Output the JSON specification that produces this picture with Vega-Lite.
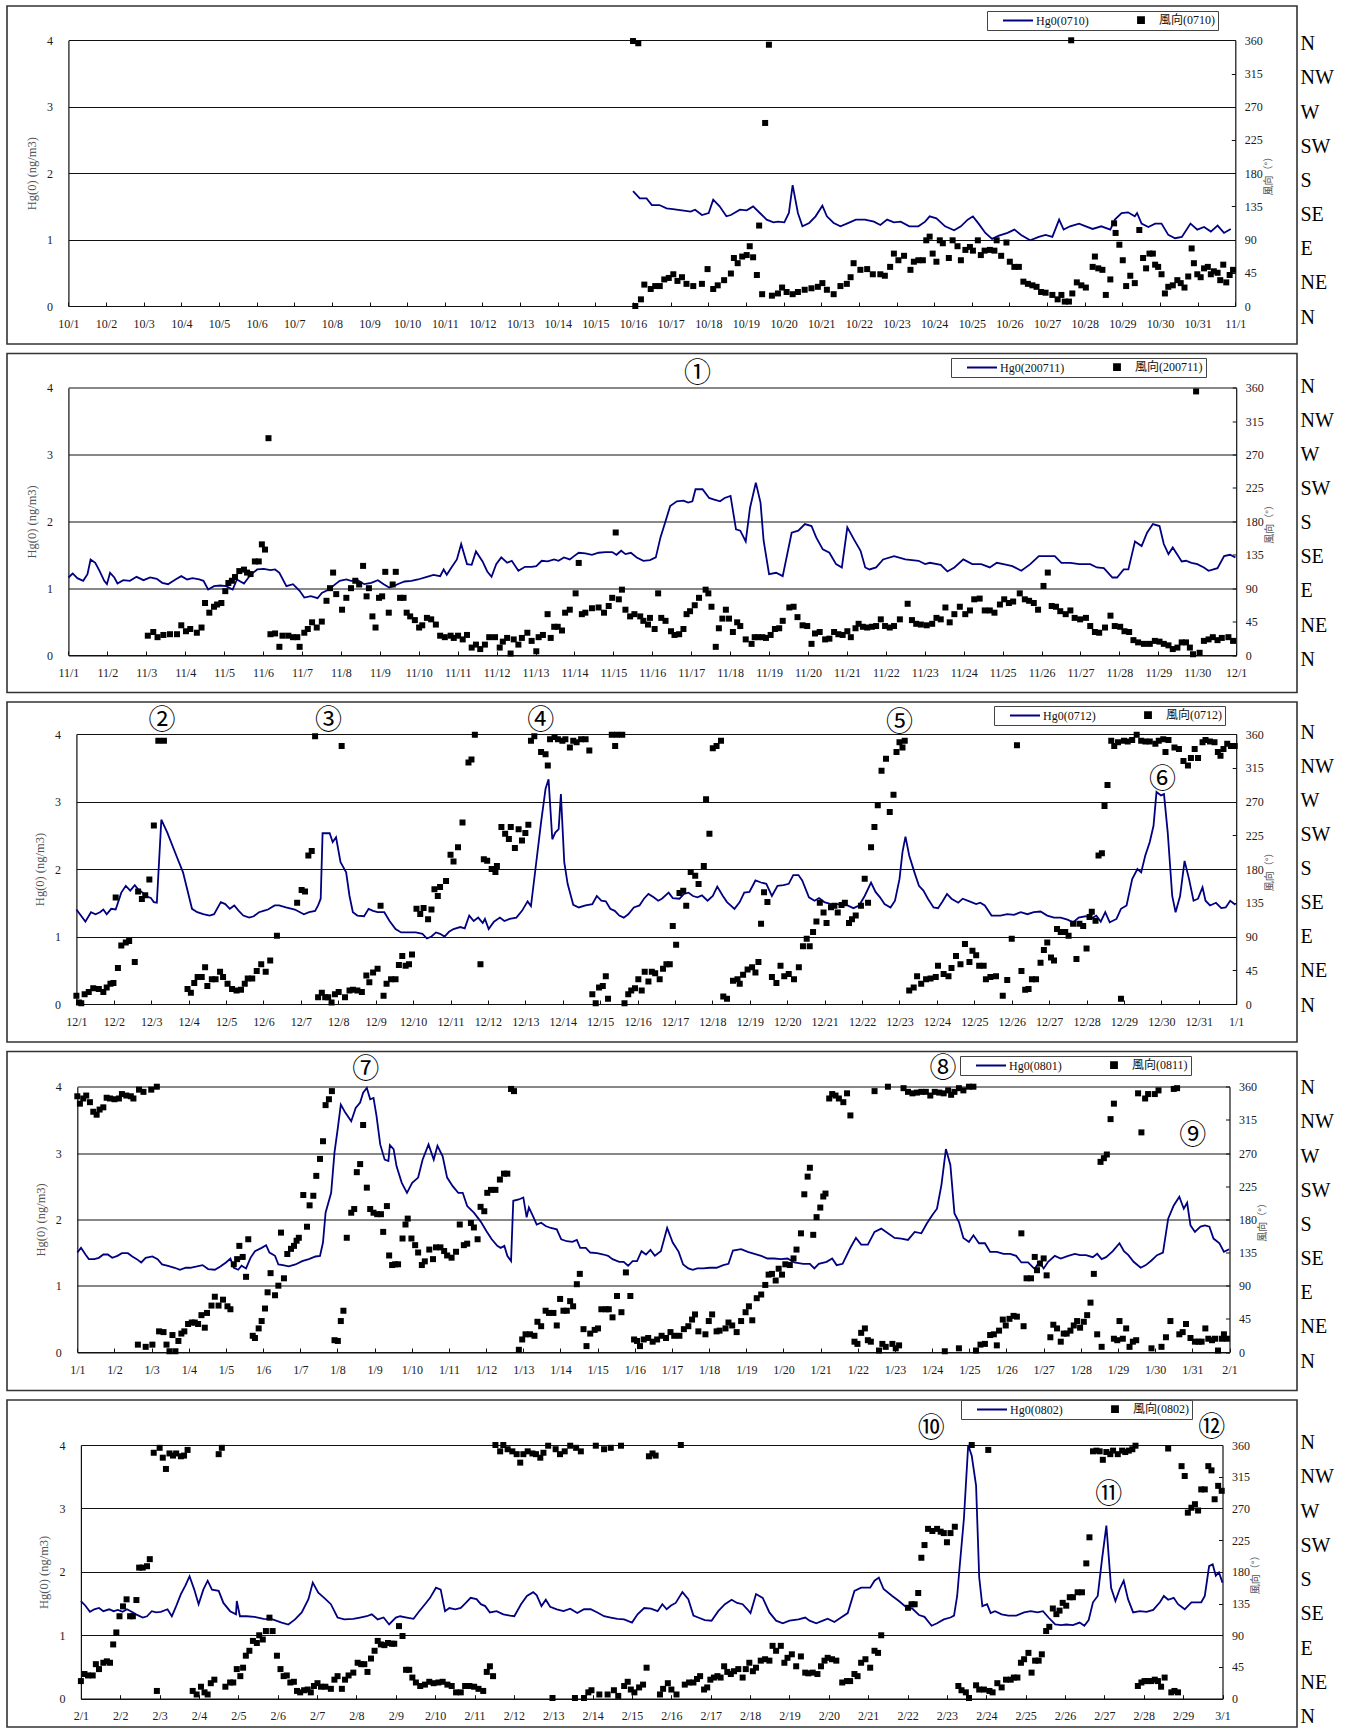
{
  "$schema": "https://vega.github.io/schema/vega-lite/v6.json",
  "background": "white",
  "padding": {"left": 6, "top": 5, "right": 5, "bottom": 5},
  "bounds": "flush",
  "spacing": 9.5,
  "config": {
    "view": {"stroke": "#333333", "strokeWidth": 1.6},
    "axis": {
      "labelFont": "Liberation Serif", "labelFontSize": 12, "labelColor": "#1a1a1a",
      "titleFont": "Liberation Serif, Noto Sans CJK JP", "titleFontSize": 12.5, "titleFontWeight": "normal", "titleColor": "#555555",
      "domainColor": "#111111", "domainWidth": 1.2, "tickColor": "#111111", "tickWidth": 1,
      "gridColor": "#111111", "gridWidth": 1, "gridOpacity": 1
    },
    "legend": {"symbolSize": 100}
  },
  "resolve": {"scale": {"color": "independent"}, "legend": {"color": "independent"}},
  "datasets": {
    "compass": [{"deg":0},{"deg":45},{"deg":90},{"deg":135},{"deg":180},{"deg":225},{"deg":270},{"deg":315},{"deg":360}],
    "n2": [{"day":17.16,"hg":4.21,"label":"①"}],
    "n3": [{"day":3.29,"hg":4.2,"label":"②"},{"day":7.74,"hg":4.2,"label":"③"},{"day":13.41,"hg":4.2,"label":"④"},{"day":23.0,"hg":4.17,"label":"⑤"},{"day":30.03,"hg":3.32,"label":"⑥"}],
    "n4": [{"day":8.76,"hg":4.25,"label":"⑦"},{"day":24.29,"hg":4.27,"label":"⑧"},{"day":31.01,"hg":3.26,"label":"⑨"}],
    "n5": [{"day":22.6,"hg":4.25,"label":"⑩"},{"day":27.11,"hg":3.21,"label":"⑪"},{"day":29.73,"hg":4.27,"label":"⑫"}],
    "h1": [{"day":16.00,"hg":1.73},{"day":16.18,"hg":1.62},{"day":16.36,"hg":1.62},{"day":16.50,"hg":1.52},{"day":16.70,"hg":1.52},{"day":16.89,"hg":1.47},{"day":17.06,"hg":1.46},{"day":17.30,"hg":1.44},{"day":17.53,"hg":1.42},{"day":17.65,"hg":1.45},{"day":17.83,"hg":1.37},{"day":18.01,"hg":1.40},{"day":18.13,"hg":1.60},{"day":18.30,"hg":1.50},{"day":18.48,"hg":1.35},{"day":18.60,"hg":1.37},{"day":18.84,"hg":1.45},{"day":19.02,"hg":1.44},{"day":19.19,"hg":1.50},{"day":19.37,"hg":1.40},{"day":19.55,"hg":1.30},{"day":19.73,"hg":1.26},{"day":19.85,"hg":1.27},{"day":20.02,"hg":1.26},{"day":20.14,"hg":1.40},{"day":20.24,"hg":1.82},{"day":20.38,"hg":1.40},{"day":20.50,"hg":1.20},{"day":20.68,"hg":1.25},{"day":20.85,"hg":1.35},{"day":21.03,"hg":1.51},{"day":21.15,"hg":1.35},{"day":21.33,"hg":1.25},{"day":21.51,"hg":1.20},{"day":21.68,"hg":1.24},{"day":21.92,"hg":1.30},{"day":22.16,"hg":1.30},{"day":22.40,"hg":1.27},{"day":22.57,"hg":1.22},{"day":22.75,"hg":1.30},{"day":22.93,"hg":1.26},{"day":23.11,"hg":1.27},{"day":23.34,"hg":1.20},{"day":23.58,"hg":1.20},{"day":23.76,"hg":1.27},{"day":23.88,"hg":1.35},{"day":24.06,"hg":1.32},{"day":24.29,"hg":1.20},{"day":24.53,"hg":1.14},{"day":24.71,"hg":1.20},{"day":24.89,"hg":1.30},{"day":25.03,"hg":1.35},{"day":25.18,"hg":1.24},{"day":25.36,"hg":1.10},{"day":25.54,"hg":1.01},{"day":25.72,"hg":1.06},{"day":25.95,"hg":1.10},{"day":26.13,"hg":1.15},{"day":26.31,"hg":1.07},{"day":26.55,"hg":0.99},{"day":26.78,"hg":1.04},{"day":26.96,"hg":1.07},{"day":27.14,"hg":1.04},{"day":27.32,"hg":1.30},{"day":27.44,"hg":1.15},{"day":27.61,"hg":1.20},{"day":27.85,"hg":1.24},{"day":28.03,"hg":1.20},{"day":28.21,"hg":1.16},{"day":28.44,"hg":1.20},{"day":28.68,"hg":1.15},{"day":28.80,"hg":1.30},{"day":28.98,"hg":1.40},{"day":29.15,"hg":1.41},{"day":29.33,"hg":1.35},{"day":29.39,"hg":1.40},{"day":29.51,"hg":1.24},{"day":29.69,"hg":1.19},{"day":29.87,"hg":1.24},{"day":30.04,"hg":1.24},{"day":30.22,"hg":1.07},{"day":30.40,"hg":1.02},{"day":30.58,"hg":1.04},{"day":30.81,"hg":1.24},{"day":30.99,"hg":1.15},{"day":31.17,"hg":1.19},{"day":31.35,"hg":1.12},{"day":31.53,"hg":1.21},{"day":31.70,"hg":1.10},{"day":31.88,"hg":1.16}],
    "w1": [{"day":16.00,"deg":359},{"day":16.14,"deg":356},{"day":16.06,"deg":0},{"day":16.21,"deg":9},{"day":16.30,"deg":29},{"day":16.47,"deg":23},{"day":16.59,"deg":27},{"day":16.71,"deg":27},{"day":16.83,"deg":36},{"day":16.95,"deg":38},{"day":17.07,"deg":43},{"day":17.18,"deg":34},{"day":17.30,"deg":39},{"day":17.42,"deg":30},{"day":17.60,"deg":27},{"day":17.83,"deg":30},{"day":17.98,"deg":50},{"day":18.13,"deg":23},{"day":18.25,"deg":28},{"day":18.42,"deg":35},{"day":18.60,"deg":44},{"day":18.68,"deg":65},{"day":18.78,"deg":58},{"day":18.90,"deg":67},{"day":19.02,"deg":69},{"day":19.10,"deg":81},{"day":19.19,"deg":66},{"day":19.29,"deg":42},{"day":19.35,"deg":109},{"day":19.43,"deg":16},{"day":19.51,"deg":248},{"day":19.61,"deg":354},{"day":19.69,"deg":14},{"day":19.85,"deg":17},{"day":19.96,"deg":25},{"day":20.08,"deg":19},{"day":20.24,"deg":16},{"day":20.38,"deg":19},{"day":20.56,"deg":22},{"day":20.74,"deg":24},{"day":20.91,"deg":26},{"day":21.03,"deg":31},{"day":21.15,"deg":22},{"day":21.33,"deg":16},{"day":21.51,"deg":27},{"day":21.68,"deg":30},{"day":21.78,"deg":39},{"day":21.86,"deg":58},{"day":22.04,"deg":49},{"day":22.22,"deg":50},{"day":22.37,"deg":43},{"day":22.57,"deg":43},{"day":22.69,"deg":41},{"day":22.83,"deg":53},{"day":22.93,"deg":71},{"day":23.05,"deg":62},{"day":23.20,"deg":68},{"day":23.37,"deg":49},{"day":23.46,"deg":60},{"day":23.58,"deg":62},{"day":23.70,"deg":62},{"day":23.79,"deg":89},{"day":23.88,"deg":94},{"day":23.96,"deg":71},{"day":24.06,"deg":60},{"day":24.15,"deg":89},{"day":24.23,"deg":85},{"day":24.39,"deg":65},{"day":24.49,"deg":89},{"day":24.62,"deg":81},{"day":24.71,"deg":62},{"day":24.83,"deg":76},{"day":24.95,"deg":80},{"day":25.03,"deg":75},{"day":25.16,"deg":89},{"day":25.24,"deg":69},{"day":25.34,"deg":75},{"day":25.48,"deg":76},{"day":25.60,"deg":75},{"day":25.66,"deg":89},{"day":25.78,"deg":68},{"day":25.92,"deg":86},{"day":26.01,"deg":60},{"day":26.13,"deg":53},{"day":26.25,"deg":53},{"day":26.37,"deg":33},{"day":26.49,"deg":30},{"day":26.61,"deg":28},{"day":26.72,"deg":26},{"day":26.84,"deg":19},{"day":26.96,"deg":18},{"day":27.14,"deg":15},{"day":27.28,"deg":9},{"day":27.38,"deg":15},{"day":27.47,"deg":6},{"day":27.58,"deg":6},{"day":27.64,"deg":360},{"day":27.67,"deg":17},{"day":27.79,"deg":32},{"day":27.91,"deg":28},{"day":28.03,"deg":25},{"day":28.21,"deg":53},{"day":28.27,"deg":67},{"day":28.36,"deg":51},{"day":28.47,"deg":49},{"day":28.56,"deg":15},{"day":28.68,"deg":36},{"day":28.78,"deg":112},{"day":28.82,"deg":99},{"day":28.92,"deg":83},{"day":29.01,"deg":62},{"day":29.10,"deg":27},{"day":29.21,"deg":41},{"day":29.33,"deg":31},{"day":29.45,"deg":103},{"day":29.55,"deg":65},{"day":29.63,"deg":51},{"day":29.72,"deg":71},{"day":29.81,"deg":71},{"day":29.87,"deg":56},{"day":29.95,"deg":53},{"day":30.04,"deg":43},{"day":30.13,"deg":17},{"day":30.22,"deg":26},{"day":30.34,"deg":28},{"day":30.46,"deg":35},{"day":30.55,"deg":31},{"day":30.65,"deg":25},{"day":30.75,"deg":40},{"day":30.84,"deg":78},{"day":30.90,"deg":58},{"day":30.99,"deg":43},{"day":31.08,"deg":39},{"day":31.17,"deg":51},{"day":31.27,"deg":53},{"day":31.35,"deg":43},{"day":31.43,"deg":47},{"day":31.53,"deg":45},{"day":31.60,"deg":35},{"day":31.68,"deg":56},{"day":31.76,"deg":32},{"day":31.85,"deg":42},{"day":31.94,"deg":49}],
    "h2": [{"day":1.00,"hg":1.16},{"day":1.11,"hg":1.22},{"day":1.23,"hg":1.15},{"day":1.38,"hg":1.11},{"day":1.49,"hg":1.21},{"day":1.57,"hg":1.43},{"day":1.69,"hg":1.38},{"day":1.80,"hg":1.26},{"day":1.92,"hg":1.11},{"day":1.99,"hg":1.06},{"day":2.07,"hg":1.23},{"day":2.18,"hg":1.16},{"day":2.26,"hg":1.07},{"day":2.41,"hg":1.12},{"day":2.58,"hg":1.11},{"day":2.75,"hg":1.17},{"day":2.93,"hg":1.12},{"day":3.10,"hg":1.16},{"day":3.27,"hg":1.14},{"day":3.41,"hg":1.08},{"day":3.56,"hg":1.06},{"day":3.75,"hg":1.13},{"day":3.90,"hg":1.18},{"day":4.05,"hg":1.13},{"day":4.19,"hg":1.15},{"day":4.36,"hg":1.13},{"day":4.47,"hg":1.11},{"day":4.59,"hg":0.98},{"day":4.74,"hg":1.03},{"day":4.90,"hg":1.04},{"day":5.05,"hg":1.03},{"day":5.22,"hg":0.98},{"day":5.33,"hg":1.13},{"day":5.51,"hg":1.07},{"day":5.68,"hg":1.20},{"day":5.85,"hg":1.28},{"day":6.02,"hg":1.29},{"day":6.19,"hg":1.27},{"day":6.31,"hg":1.28},{"day":6.42,"hg":1.23},{"day":6.60,"hg":1.03},{"day":6.77,"hg":1.06},{"day":6.94,"hg":0.96},{"day":7.06,"hg":0.86},{"day":7.23,"hg":0.88},{"day":7.40,"hg":0.85},{"day":7.51,"hg":0.93},{"day":7.69,"hg":0.98},{"day":7.86,"hg":1.06},{"day":7.97,"hg":1.11},{"day":8.14,"hg":1.13},{"day":8.26,"hg":1.11},{"day":8.43,"hg":1.12},{"day":8.60,"hg":1.06},{"day":8.78,"hg":1.08},{"day":8.95,"hg":1.12},{"day":9.10,"hg":1.06},{"day":9.24,"hg":1.01},{"day":9.35,"hg":1.03},{"day":9.50,"hg":1.07},{"day":9.64,"hg":1.10},{"day":9.81,"hg":1.11},{"day":9.98,"hg":1.13},{"day":10.21,"hg":1.17},{"day":10.38,"hg":1.20},{"day":10.55,"hg":1.18},{"day":10.64,"hg":1.28},{"day":10.72,"hg":1.20},{"day":10.84,"hg":1.31},{"day":10.98,"hg":1.43},{"day":11.09,"hg":1.66},{"day":11.24,"hg":1.36},{"day":11.36,"hg":1.35},{"day":11.47,"hg":1.55},{"day":11.64,"hg":1.40},{"day":11.76,"hg":1.25},{"day":11.87,"hg":1.17},{"day":11.99,"hg":1.36},{"day":12.12,"hg":1.46},{"day":12.27,"hg":1.38},{"day":12.39,"hg":1.41},{"day":12.56,"hg":1.26},{"day":12.73,"hg":1.32},{"day":12.90,"hg":1.32},{"day":13.02,"hg":1.33},{"day":13.16,"hg":1.41},{"day":13.31,"hg":1.40},{"day":13.48,"hg":1.43},{"day":13.59,"hg":1.41},{"day":13.73,"hg":1.46},{"day":13.88,"hg":1.43},{"day":13.99,"hg":1.48},{"day":14.11,"hg":1.53},{"day":14.28,"hg":1.52},{"day":14.45,"hg":1.50},{"day":14.62,"hg":1.53},{"day":14.80,"hg":1.54},{"day":14.97,"hg":1.54},{"day":15.08,"hg":1.50},{"day":15.20,"hg":1.56},{"day":15.31,"hg":1.51},{"day":15.45,"hg":1.53},{"day":15.60,"hg":1.46},{"day":15.77,"hg":1.41},{"day":15.94,"hg":1.42},{"day":16.09,"hg":1.46},{"day":16.21,"hg":1.76},{"day":16.34,"hg":2.00},{"day":16.46,"hg":2.23},{"day":16.63,"hg":2.30},{"day":16.80,"hg":2.31},{"day":16.92,"hg":2.28},{"day":17.03,"hg":2.30},{"day":17.11,"hg":2.48},{"day":17.29,"hg":2.48},{"day":17.46,"hg":2.35},{"day":17.57,"hg":2.33},{"day":17.74,"hg":2.30},{"day":17.86,"hg":2.35},{"day":18.01,"hg":2.38},{"day":18.15,"hg":1.88},{"day":18.26,"hg":1.86},{"day":18.40,"hg":1.70},{"day":18.51,"hg":2.20},{"day":18.66,"hg":2.58},{"day":18.78,"hg":2.28},{"day":18.86,"hg":1.71},{"day":19.00,"hg":1.21},{"day":19.18,"hg":1.23},{"day":19.35,"hg":1.18},{"day":19.58,"hg":1.83},{"day":19.75,"hg":1.86},{"day":19.92,"hg":1.96},{"day":20.09,"hg":1.93},{"day":20.21,"hg":1.76},{"day":20.38,"hg":1.58},{"day":20.55,"hg":1.53},{"day":20.72,"hg":1.36},{"day":20.87,"hg":1.31},{"day":21.01,"hg":1.91},{"day":21.18,"hg":1.73},{"day":21.35,"hg":1.56},{"day":21.47,"hg":1.31},{"day":21.58,"hg":1.28},{"day":21.75,"hg":1.31},{"day":21.93,"hg":1.43},{"day":22.21,"hg":1.48},{"day":22.50,"hg":1.43},{"day":22.84,"hg":1.41},{"day":23.01,"hg":1.36},{"day":23.13,"hg":1.38},{"day":23.41,"hg":1.35},{"day":23.58,"hg":1.25},{"day":23.76,"hg":1.31},{"day":23.99,"hg":1.43},{"day":24.22,"hg":1.36},{"day":24.45,"hg":1.36},{"day":24.67,"hg":1.31},{"day":24.85,"hg":1.38},{"day":25.02,"hg":1.36},{"day":25.25,"hg":1.33},{"day":25.48,"hg":1.26},{"day":25.71,"hg":1.36},{"day":25.93,"hg":1.48},{"day":26.16,"hg":1.48},{"day":26.34,"hg":1.48},{"day":26.51,"hg":1.38},{"day":26.74,"hg":1.38},{"day":26.97,"hg":1.36},{"day":27.25,"hg":1.36},{"day":27.42,"hg":1.31},{"day":27.60,"hg":1.30},{"day":27.71,"hg":1.23},{"day":27.82,"hg":1.16},{"day":27.94,"hg":1.16},{"day":28.11,"hg":1.28},{"day":28.23,"hg":1.28},{"day":28.40,"hg":1.70},{"day":28.57,"hg":1.63},{"day":28.71,"hg":1.83},{"day":28.86,"hg":1.96},{"day":29.03,"hg":1.93},{"day":29.14,"hg":1.66},{"day":29.26,"hg":1.51},{"day":29.37,"hg":1.61},{"day":29.49,"hg":1.50},{"day":29.60,"hg":1.40},{"day":29.71,"hg":1.41},{"day":29.85,"hg":1.38},{"day":30.00,"hg":1.36},{"day":30.17,"hg":1.31},{"day":30.29,"hg":1.26},{"day":30.52,"hg":1.30},{"day":30.69,"hg":1.48},{"day":30.84,"hg":1.50},{"day":30.98,"hg":1.46}],
    "w2": [{"day":3.04,"deg":26},{"day":3.18,"deg":31},{"day":3.29,"deg":24},{"day":3.44,"deg":27},{"day":3.61,"deg":28},{"day":3.79,"deg":28},{"day":3.90,"deg":40},{"day":4.02,"deg":32},{"day":4.13,"deg":35},{"day":4.30,"deg":30},{"day":4.42,"deg":37},{"day":4.51,"deg":70},{"day":4.62,"deg":57},{"day":4.74,"deg":65},{"day":4.82,"deg":68},{"day":4.93,"deg":70},{"day":5.03,"deg":86},{"day":5.11,"deg":97},{"day":5.20,"deg":100},{"day":5.28,"deg":105},{"day":5.39,"deg":113},{"day":5.51,"deg":115},{"day":5.59,"deg":111},{"day":5.68,"deg":109},{"day":5.79,"deg":126},{"day":5.89,"deg":126},{"day":5.97,"deg":149},{"day":6.05,"deg":142},{"day":6.14,"deg":292},{"day":6.19,"deg":28},{"day":6.31,"deg":29},{"day":6.42,"deg":11},{"day":6.50,"deg":26},{"day":6.65,"deg":26},{"day":6.77,"deg":24},{"day":6.88,"deg":24},{"day":6.94,"deg":11},{"day":7.06,"deg":30},{"day":7.15,"deg":35},{"day":7.26,"deg":44},{"day":7.38,"deg":37},{"day":7.51,"deg":45},{"day":7.63,"deg":73},{"day":7.72,"deg":90},{"day":7.80,"deg":111},{"day":7.88,"deg":82},{"day":8.03,"deg":61},{"day":8.14,"deg":77},{"day":8.26,"deg":90},{"day":8.37,"deg":100},{"day":8.47,"deg":95},{"day":8.57,"deg":120},{"day":8.66,"deg":79},{"day":8.72,"deg":90},{"day":8.81,"deg":52},{"day":8.89,"deg":37},{"day":8.98,"deg":77},{"day":9.06,"deg":79},{"day":9.14,"deg":112},{"day":9.23,"deg":57},{"day":9.33,"deg":95},{"day":9.41,"deg":112},{"day":9.52,"deg":77},{"day":9.61,"deg":77},{"day":9.69,"deg":57},{"day":9.78,"deg":52},{"day":9.90,"deg":47},{"day":10.01,"deg":37},{"day":10.09,"deg":40},{"day":10.21,"deg":50},{"day":10.32,"deg":48},{"day":10.44,"deg":41},{"day":10.55,"deg":26},{"day":10.67,"deg":24},{"day":10.82,"deg":26},{"day":10.90,"deg":23},{"day":11.01,"deg":26},{"day":11.13,"deg":21},{"day":11.24,"deg":27},{"day":11.36,"deg":10},{"day":11.47,"deg":14},{"day":11.58,"deg":8},{"day":11.70,"deg":14},{"day":11.81,"deg":24},{"day":11.96,"deg":24},{"day":12.08,"deg":10},{"day":12.16,"deg":18},{"day":12.27,"deg":23},{"day":12.36,"deg":2},{"day":12.44,"deg":21},{"day":12.56,"deg":14},{"day":12.65,"deg":23},{"day":12.79,"deg":30},{"day":12.90,"deg":19},{"day":13.02,"deg":5},{"day":13.08,"deg":24},{"day":13.19,"deg":27},{"day":13.31,"deg":55},{"day":13.39,"deg":23},{"day":13.48,"deg":38},{"day":13.57,"deg":38},{"day":13.68,"deg":33},{"day":13.76,"deg":57},{"day":13.88,"deg":61},{"day":14.03,"deg":83},{"day":14.11,"deg":124},{"day":14.19,"deg":55},{"day":14.28,"deg":57},{"day":14.45,"deg":63},{"day":14.62,"deg":64},{"day":14.76,"deg":57},{"day":14.88,"deg":66},{"day":14.97,"deg":77},{"day":15.06,"deg":165},{"day":15.14,"deg":75},{"day":15.22,"deg":88},{"day":15.31,"deg":61},{"day":15.43,"deg":52},{"day":15.54,"deg":55},{"day":15.69,"deg":52},{"day":15.77,"deg":46},{"day":15.89,"deg":41},{"day":15.94,"deg":50},{"day":16.06,"deg":35},{"day":16.15,"deg":83},{"day":16.23,"deg":50},{"day":16.34,"deg":46},{"day":16.48,"deg":32},{"day":16.57,"deg":27},{"day":16.69,"deg":28},{"day":16.80,"deg":35},{"day":16.88,"deg":55},{"day":16.97,"deg":59},{"day":17.09,"deg":67},{"day":17.20,"deg":77},{"day":17.37,"deg":88},{"day":17.44,"deg":83},{"day":17.52,"deg":65},{"day":17.63,"deg":11},{"day":17.71,"deg":36},{"day":17.80,"deg":49},{"day":17.89,"deg":61},{"day":17.97,"deg":49},{"day":18.07,"deg":31},{"day":18.18,"deg":44},{"day":18.26,"deg":39},{"day":18.40,"deg":21},{"day":18.55,"deg":15},{"day":18.63,"deg":24},{"day":18.72,"deg":24},{"day":18.83,"deg":24},{"day":18.92,"deg":23},{"day":19.04,"deg":27},{"day":19.15,"deg":35},{"day":19.26,"deg":36},{"day":19.35,"deg":46},{"day":19.52,"deg":64},{"day":19.63,"deg":65},{"day":19.73,"deg":51},{"day":19.86,"deg":40},{"day":19.98,"deg":39},{"day":20.09,"deg":15},{"day":20.18,"deg":29},{"day":20.30,"deg":31},{"day":20.44,"deg":21},{"day":20.55,"deg":22},{"day":20.67,"deg":31},{"day":20.78,"deg":28},{"day":20.89,"deg":27},{"day":21.01,"deg":32},{"day":21.10,"deg":24},{"day":21.22,"deg":36},{"day":21.30,"deg":42},{"day":21.41,"deg":38},{"day":21.52,"deg":37},{"day":21.64,"deg":38},{"day":21.75,"deg":39},{"day":21.87,"deg":48},{"day":21.98,"deg":39},{"day":22.10,"deg":37},{"day":22.21,"deg":39},{"day":22.36,"deg":48},{"day":22.56,"deg":69},{"day":22.67,"deg":47},{"day":22.78,"deg":42},{"day":22.90,"deg":41},{"day":23.05,"deg":40},{"day":23.19,"deg":42},{"day":23.30,"deg":50},{"day":23.41,"deg":48},{"day":23.53,"deg":64},{"day":23.64,"deg":44},{"day":23.76,"deg":55},{"day":23.90,"deg":65},{"day":24.04,"deg":55},{"day":24.16,"deg":60},{"day":24.27,"deg":75},{"day":24.41,"deg":76},{"day":24.54,"deg":60},{"day":24.67,"deg":60},{"day":24.79,"deg":57},{"day":24.93,"deg":68},{"day":25.04,"deg":75},{"day":25.16,"deg":70},{"day":25.27,"deg":72},{"day":25.44,"deg":83},{"day":25.57,"deg":75},{"day":25.68,"deg":73},{"day":25.80,"deg":70},{"day":25.91,"deg":61},{"day":26.05,"deg":93},{"day":26.16,"deg":111},{"day":26.26,"deg":66},{"day":26.37,"deg":65},{"day":26.48,"deg":59},{"day":26.62,"deg":55},{"day":26.74,"deg":60},{"day":26.85,"deg":50},{"day":26.99,"deg":48},{"day":27.14,"deg":50},{"day":27.25,"deg":39},{"day":27.37,"deg":31},{"day":27.48,"deg":30},{"day":27.63,"deg":37},{"day":27.77,"deg":53},{"day":27.88,"deg":39},{"day":28.02,"deg":38},{"day":28.13,"deg":32},{"day":28.25,"deg":31},{"day":28.36,"deg":20},{"day":28.48,"deg":17},{"day":28.63,"deg":15},{"day":28.78,"deg":15},{"day":28.91,"deg":19},{"day":29.03,"deg":18},{"day":29.14,"deg":15},{"day":29.26,"deg":13},{"day":29.37,"deg":8},{"day":29.49,"deg":10},{"day":29.60,"deg":17},{"day":29.71,"deg":17},{"day":29.81,"deg":10},{"day":29.89,"deg":1},{"day":29.97,"deg":355},{"day":30.06,"deg":3},{"day":30.17,"deg":19},{"day":30.29,"deg":21},{"day":30.40,"deg":24},{"day":30.52,"deg":20},{"day":30.63,"deg":23},{"day":30.80,"deg":24},{"day":30.92,"deg":19}],
    "h3": [{"day":1.00,"hg":1.40},{"day":1.12,"hg":1.31},{"day":1.24,"hg":1.22},{"day":1.39,"hg":1.36},{"day":1.51,"hg":1.33},{"day":1.63,"hg":1.36},{"day":1.72,"hg":1.40},{"day":1.81,"hg":1.33},{"day":1.93,"hg":1.41},{"day":2.05,"hg":1.40},{"day":2.20,"hg":1.65},{"day":2.32,"hg":1.75},{"day":2.44,"hg":1.68},{"day":2.56,"hg":1.76},{"day":2.65,"hg":1.70},{"day":2.77,"hg":1.65},{"day":2.89,"hg":1.59},{"day":2.99,"hg":1.57},{"day":3.07,"hg":1.51},{"day":3.15,"hg":1.50},{"day":3.27,"hg":2.73},{"day":3.43,"hg":2.54},{"day":3.67,"hg":2.20},{"day":3.85,"hg":1.95},{"day":4.09,"hg":1.41},{"day":4.23,"hg":1.36},{"day":4.39,"hg":1.33},{"day":4.56,"hg":1.31},{"day":4.68,"hg":1.33},{"day":4.86,"hg":1.51},{"day":4.98,"hg":1.48},{"day":5.10,"hg":1.41},{"day":5.22,"hg":1.46},{"day":5.34,"hg":1.38},{"day":5.46,"hg":1.31},{"day":5.62,"hg":1.28},{"day":5.74,"hg":1.30},{"day":5.88,"hg":1.36},{"day":6.00,"hg":1.38},{"day":6.12,"hg":1.40},{"day":6.30,"hg":1.46},{"day":6.42,"hg":1.46},{"day":6.60,"hg":1.43},{"day":6.84,"hg":1.40},{"day":7.08,"hg":1.33},{"day":7.22,"hg":1.36},{"day":7.38,"hg":1.38},{"day":7.46,"hg":1.46},{"day":7.53,"hg":1.56},{"day":7.58,"hg":2.53},{"day":7.77,"hg":2.53},{"day":7.85,"hg":2.40},{"day":7.94,"hg":2.47},{"day":8.06,"hg":2.10},{"day":8.21,"hg":1.95},{"day":8.30,"hg":1.60},{"day":8.39,"hg":1.36},{"day":8.51,"hg":1.31},{"day":8.69,"hg":1.30},{"day":8.81,"hg":1.41},{"day":8.93,"hg":1.38},{"day":9.05,"hg":1.36},{"day":9.23,"hg":1.36},{"day":9.37,"hg":1.23},{"day":9.53,"hg":1.11},{"day":9.68,"hg":1.06},{"day":9.89,"hg":1.06},{"day":10.07,"hg":1.06},{"day":10.25,"hg":1.04},{"day":10.37,"hg":0.97},{"day":10.49,"hg":1.00},{"day":10.61,"hg":1.06},{"day":10.72,"hg":1.04},{"day":10.84,"hg":1.00},{"day":10.96,"hg":1.07},{"day":11.08,"hg":1.11},{"day":11.26,"hg":1.14},{"day":11.38,"hg":1.12},{"day":11.50,"hg":1.31},{"day":11.62,"hg":1.23},{"day":11.74,"hg":1.28},{"day":11.86,"hg":1.20},{"day":11.92,"hg":1.26},{"day":12.02,"hg":1.11},{"day":12.16,"hg":1.22},{"day":12.32,"hg":1.28},{"day":12.44,"hg":1.23},{"day":12.58,"hg":1.26},{"day":12.76,"hg":1.28},{"day":12.91,"hg":1.38},{"day":13.06,"hg":1.52},{"day":13.15,"hg":1.45},{"day":13.27,"hg":2.00},{"day":13.42,"hg":2.69},{"day":13.54,"hg":3.19},{"day":13.62,"hg":3.33},{"day":13.72,"hg":2.44},{"day":13.80,"hg":2.54},{"day":13.89,"hg":2.59},{"day":13.95,"hg":3.11},{"day":14.04,"hg":2.10},{"day":14.13,"hg":1.78},{"day":14.28,"hg":1.47},{"day":14.43,"hg":1.43},{"day":14.61,"hg":1.46},{"day":14.79,"hg":1.48},{"day":14.91,"hg":1.60},{"day":15.03,"hg":1.53},{"day":15.15,"hg":1.52},{"day":15.27,"hg":1.41},{"day":15.39,"hg":1.38},{"day":15.51,"hg":1.31},{"day":15.63,"hg":1.28},{"day":15.75,"hg":1.33},{"day":15.90,"hg":1.43},{"day":16.05,"hg":1.46},{"day":16.17,"hg":1.56},{"day":16.29,"hg":1.63},{"day":16.43,"hg":1.58},{"day":16.55,"hg":1.53},{"day":16.65,"hg":1.56},{"day":16.83,"hg":1.65},{"day":16.94,"hg":1.57},{"day":17.12,"hg":1.56},{"day":17.24,"hg":1.63},{"day":17.36,"hg":1.65},{"day":17.48,"hg":1.60},{"day":17.60,"hg":1.58},{"day":17.72,"hg":1.61},{"day":17.87,"hg":1.53},{"day":18.01,"hg":1.60},{"day":18.13,"hg":1.74},{"day":18.28,"hg":1.60},{"day":18.39,"hg":1.51},{"day":18.59,"hg":1.41},{"day":18.73,"hg":1.51},{"day":18.85,"hg":1.65},{"day":18.99,"hg":1.66},{"day":19.15,"hg":1.83},{"day":19.30,"hg":1.80},{"day":19.44,"hg":1.78},{"day":19.59,"hg":1.60},{"day":19.74,"hg":1.75},{"day":19.90,"hg":1.76},{"day":20.04,"hg":1.78},{"day":20.16,"hg":1.91},{"day":20.30,"hg":1.91},{"day":20.40,"hg":1.83},{"day":20.58,"hg":1.58},{"day":20.73,"hg":1.53},{"day":20.85,"hg":1.57},{"day":20.99,"hg":1.51},{"day":21.17,"hg":1.48},{"day":21.35,"hg":1.48},{"day":21.49,"hg":1.46},{"day":21.61,"hg":1.46},{"day":21.77,"hg":1.42},{"day":21.92,"hg":1.46},{"day":22.07,"hg":1.60},{"day":22.24,"hg":1.80},{"day":22.36,"hg":1.66},{"day":22.48,"hg":1.58},{"day":22.60,"hg":1.48},{"day":22.76,"hg":1.43},{"day":22.88,"hg":1.53},{"day":23.00,"hg":1.85},{"day":23.08,"hg":2.25},{"day":23.16,"hg":2.48},{"day":23.26,"hg":2.20},{"day":23.40,"hg":1.95},{"day":23.52,"hg":1.75},{"day":23.64,"hg":1.68},{"day":23.76,"hg":1.56},{"day":23.91,"hg":1.43},{"day":24.03,"hg":1.42},{"day":24.15,"hg":1.52},{"day":24.27,"hg":1.63},{"day":24.39,"hg":1.56},{"day":24.57,"hg":1.50},{"day":24.69,"hg":1.56},{"day":24.87,"hg":1.52},{"day":25.05,"hg":1.48},{"day":25.16,"hg":1.50},{"day":25.28,"hg":1.46},{"day":25.46,"hg":1.31},{"day":25.70,"hg":1.31},{"day":25.88,"hg":1.33},{"day":26.06,"hg":1.32},{"day":26.24,"hg":1.36},{"day":26.42,"hg":1.33},{"day":26.59,"hg":1.36},{"day":26.77,"hg":1.37},{"day":26.95,"hg":1.31},{"day":27.13,"hg":1.28},{"day":27.31,"hg":1.28},{"day":27.49,"hg":1.25},{"day":27.64,"hg":1.21},{"day":27.79,"hg":1.28},{"day":27.97,"hg":1.30},{"day":28.14,"hg":1.27},{"day":28.26,"hg":1.31},{"day":28.38,"hg":1.22},{"day":28.50,"hg":1.36},{"day":28.62,"hg":1.21},{"day":28.80,"hg":1.26},{"day":28.92,"hg":1.41},{"day":29.07,"hg":1.46},{"day":29.22,"hg":1.85},{"day":29.36,"hg":2.00},{"day":29.46,"hg":1.95},{"day":29.57,"hg":2.20},{"day":29.69,"hg":2.40},{"day":29.79,"hg":2.64},{"day":29.87,"hg":3.14},{"day":29.99,"hg":3.09},{"day":30.07,"hg":3.11},{"day":30.17,"hg":2.54},{"day":30.29,"hg":1.60},{"day":30.38,"hg":1.36},{"day":30.50,"hg":1.60},{"day":30.62,"hg":2.12},{"day":30.74,"hg":1.85},{"day":30.86,"hg":1.53},{"day":30.98,"hg":1.56},{"day":31.10,"hg":1.73},{"day":31.18,"hg":1.53},{"day":31.30,"hg":1.46},{"day":31.46,"hg":1.50},{"day":31.60,"hg":1.42},{"day":31.72,"hg":1.43},{"day":31.84,"hg":1.53},{"day":31.98,"hg":1.47}],
    "w3": [{"day":1.00,"deg":11},{"day":1.07,"deg":2},{"day":1.13,"deg":1},{"day":1.22,"deg":13},{"day":1.33,"deg":16},{"day":1.45,"deg":21},{"day":1.60,"deg":20},{"day":1.72,"deg":16},{"day":1.81,"deg":22},{"day":1.91,"deg":27},{"day":1.99,"deg":28},{"day":2.05,"deg":142},{"day":2.11,"deg":48},{"day":2.20,"deg":78},{"day":2.32,"deg":82},{"day":2.41,"deg":84},{"day":2.56,"deg":56},{"day":2.65,"deg":150},{"day":2.75,"deg":140},{"day":2.84,"deg":145},{"day":2.95,"deg":166},{"day":3.07,"deg":238},{"day":3.19,"deg":351},{"day":3.34,"deg":351},{"day":3.97,"deg":20},{"day":4.06,"deg":15},{"day":4.15,"deg":28},{"day":4.24,"deg":36},{"day":4.35,"deg":36},{"day":4.44,"deg":49},{"day":4.50,"deg":24},{"day":4.62,"deg":33},{"day":4.72,"deg":33},{"day":4.84,"deg":43},{"day":4.92,"deg":36},{"day":5.04,"deg":27},{"day":5.16,"deg":20},{"day":5.28,"deg":18},{"day":5.40,"deg":19},{"day":5.50,"deg":27},{"day":5.58,"deg":34},{"day":5.70,"deg":34},{"day":5.82,"deg":44},{"day":5.94,"deg":53},{"day":6.06,"deg":43},{"day":6.18,"deg":58},{"day":6.36,"deg":91},{"day":6.90,"deg":135},{"day":7.02,"deg":152},{"day":7.11,"deg":150},{"day":7.20,"deg":198},{"day":7.29,"deg":204},{"day":7.38,"deg":357},{"day":7.46,"deg":9},{"day":7.56,"deg":15},{"day":7.65,"deg":9},{"day":7.73,"deg":9},{"day":7.82,"deg":2},{"day":7.91,"deg":13},{"day":8.01,"deg":16},{"day":8.09,"deg":344},{"day":8.18,"deg":9},{"day":8.30,"deg":18},{"day":8.39,"deg":19},{"day":8.51,"deg":18},{"day":8.63,"deg":16},{"day":8.75,"deg":38},{"day":8.83,"deg":29},{"day":8.93,"deg":42},{"day":9.05,"deg":47},{"day":9.13,"deg":131},{"day":9.21,"deg":11},{"day":9.29,"deg":27},{"day":9.41,"deg":33},{"day":9.53,"deg":33},{"day":9.62,"deg":52},{"day":9.71,"deg":64},{"day":9.80,"deg":51},{"day":9.89,"deg":53},{"day":9.97,"deg":66},{"day":10.09,"deg":127},{"day":10.19,"deg":120},{"day":10.28,"deg":128},{"day":10.40,"deg":113},{"day":10.49,"deg":126},{"day":10.57,"deg":153},{"day":10.66,"deg":144},{"day":10.72,"deg":156},{"day":10.88,"deg":164},{"day":11.00,"deg":199},{"day":11.08,"deg":190},{"day":11.20,"deg":209},{"day":11.32,"deg":242},{"day":11.48,"deg":322},{"day":11.56,"deg":326},{"day":11.65,"deg":359},{"day":11.80,"deg":53},{"day":11.89,"deg":193},{"day":11.98,"deg":191},{"day":12.10,"deg":180},{"day":12.20,"deg":176},{"day":12.24,"deg":184},{"day":12.36,"deg":236},{"day":12.46,"deg":227},{"day":12.56,"deg":220},{"day":12.61,"deg":236},{"day":12.72,"deg":208},{"day":12.82,"deg":233},{"day":12.91,"deg":218},{"day":13.00,"deg":228},{"day":13.08,"deg":239},{"day":13.15,"deg":351},{"day":13.24,"deg":357},{"day":13.42,"deg":336},{"day":13.54,"deg":333},{"day":13.60,"deg":318},{"day":13.66,"deg":353},{"day":13.78,"deg":356},{"day":13.87,"deg":353},{"day":13.99,"deg":351},{"day":14.07,"deg":353},{"day":14.19,"deg":342},{"day":14.28,"deg":351},{"day":14.37,"deg":349},{"day":14.49,"deg":353},{"day":14.61,"deg":353},{"day":14.71,"deg":338},{"day":14.79,"deg":13},{"day":14.88,"deg":1},{"day":14.97,"deg":22},{"day":15.07,"deg":24},{"day":15.15,"deg":37},{"day":15.21,"deg":7},{"day":15.31,"deg":359},{"day":15.40,"deg":344},{"day":15.45,"deg":359},{"day":15.59,"deg":359},{"day":15.65,"deg":1},{"day":15.75,"deg":13},{"day":15.83,"deg":18},{"day":15.93,"deg":21},{"day":16.02,"deg":33},{"day":16.11,"deg":18},{"day":16.19,"deg":43},{"day":16.29,"deg":30},{"day":16.38,"deg":43},{"day":16.47,"deg":41},{"day":16.59,"deg":33},{"day":16.68,"deg":47},{"day":16.77,"deg":53},{"day":16.86,"deg":53},{"day":16.94,"deg":104},{"day":17.03,"deg":79},{"day":17.12,"deg":148},{"day":17.22,"deg":151},{"day":17.30,"deg":131},{"day":17.42,"deg":176},{"day":17.54,"deg":171},{"day":17.63,"deg":160},{"day":17.77,"deg":184},{"day":17.83,"deg":273},{"day":17.92,"deg":227},{"day":18.01,"deg":341},{"day":18.11,"deg":344},{"day":18.23,"deg":351},{"day":18.29,"deg":10},{"day":18.39,"deg":7},{"day":18.55,"deg":31},{"day":18.67,"deg":33},{"day":18.73,"deg":27},{"day":18.82,"deg":39},{"day":18.94,"deg":46},{"day":19.06,"deg":49},{"day":19.15,"deg":42},{"day":19.23,"deg":56},{"day":19.30,"deg":107},{"day":19.38,"deg":149},{"day":19.47,"deg":136},{"day":19.59,"deg":36},{"day":19.71,"deg":28},{"day":19.82,"deg":51},{"day":19.92,"deg":37},{"day":20.04,"deg":40},{"day":20.18,"deg":33},{"day":20.31,"deg":49},{"day":20.42,"deg":77},{"day":20.52,"deg":87},{"day":20.60,"deg":77},{"day":20.69,"deg":96},{"day":20.78,"deg":110},{"day":20.87,"deg":135},{"day":20.97,"deg":122},{"day":21.05,"deg":108},{"day":21.17,"deg":129},{"day":21.26,"deg":131},{"day":21.35,"deg":122},{"day":21.45,"deg":132},{"day":21.54,"deg":135},{"day":21.65,"deg":108},{"day":21.73,"deg":113},{"day":21.83,"deg":118},{"day":21.97,"deg":131},{"day":22.07,"deg":167},{"day":22.16,"deg":135},{"day":22.24,"deg":209},{"day":22.33,"deg":236},{"day":22.42,"deg":265},{"day":22.52,"deg":311},{"day":22.64,"deg":327},{"day":22.74,"deg":256},{"day":22.84,"deg":279},{"day":22.92,"deg":336},{"day":23.00,"deg":349},{"day":23.08,"deg":342},{"day":23.14,"deg":351},{"day":23.26,"deg":18},{"day":23.38,"deg":22},{"day":23.47,"deg":37},{"day":23.58,"deg":27},{"day":23.71,"deg":33},{"day":23.83,"deg":34},{"day":23.97,"deg":36},{"day":24.03,"deg":51},{"day":24.18,"deg":40},{"day":24.31,"deg":37},{"day":24.39,"deg":48},{"day":24.51,"deg":64},{"day":24.63,"deg":53},{"day":24.75,"deg":80},{"day":24.87,"deg":56},{"day":24.95,"deg":71},{"day":25.05,"deg":65},{"day":25.13,"deg":51},{"day":25.25,"deg":51},{"day":25.31,"deg":33},{"day":25.43,"deg":36},{"day":25.58,"deg":37},{"day":25.76,"deg":11},{"day":25.88,"deg":32},{"day":26.00,"deg":87},{"day":26.14,"deg":345},{"day":26.26,"deg":44},{"day":26.36,"deg":19},{"day":26.45,"deg":20},{"day":26.54,"deg":33},{"day":26.65,"deg":33},{"day":26.77,"deg":55},{"day":26.86,"deg":72},{"day":26.95,"deg":82},{"day":27.05,"deg":62},{"day":27.13,"deg":58},{"day":27.21,"deg":100},{"day":27.31,"deg":96},{"day":27.43,"deg":96},{"day":27.52,"deg":91},{"day":27.64,"deg":107},{"day":27.73,"deg":60},{"day":27.81,"deg":107},{"day":27.91,"deg":104},{"day":28.00,"deg":74},{"day":28.08,"deg":116},{"day":28.14,"deg":123},{"day":28.24,"deg":111},{"day":28.32,"deg":198},{"day":28.41,"deg":201},{"day":28.48,"deg":264},{"day":28.56,"deg":292},{"day":28.66,"deg":351},{"day":28.74,"deg":344},{"day":28.84,"deg":349},{"day":28.92,"deg":7},{"day":29.00,"deg":351},{"day":29.10,"deg":350},{"day":29.22,"deg":352},{"day":29.34,"deg":359},{"day":29.46,"deg":351},{"day":29.57,"deg":350},{"day":29.69,"deg":350},{"day":29.84,"deg":347},{"day":29.93,"deg":351},{"day":30.05,"deg":353},{"day":30.11,"deg":336},{"day":30.19,"deg":352},{"day":30.35,"deg":342},{"day":30.47,"deg":340},{"day":30.59,"deg":324},{"day":30.71,"deg":318},{"day":30.79,"deg":328},{"day":30.89,"deg":340},{"day":30.98,"deg":328},{"day":31.10,"deg":349},{"day":31.18,"deg":352},{"day":31.30,"deg":350},{"day":31.42,"deg":349},{"day":31.51,"deg":336},{"day":31.58,"deg":331},{"day":31.66,"deg":340},{"day":31.76,"deg":347},{"day":31.86,"deg":344},{"day":31.96,"deg":344}],
    "h4": [{"day":1.00,"hg":1.50},{"day":1.10,"hg":1.57},{"day":1.22,"hg":1.47},{"day":1.31,"hg":1.40},{"day":1.46,"hg":1.40},{"day":1.58,"hg":1.42},{"day":1.70,"hg":1.47},{"day":1.82,"hg":1.47},{"day":1.94,"hg":1.42},{"day":2.08,"hg":1.45},{"day":2.20,"hg":1.49},{"day":2.36,"hg":1.49},{"day":2.48,"hg":1.44},{"day":2.60,"hg":1.40},{"day":2.72,"hg":1.35},{"day":2.84,"hg":1.42},{"day":3.02,"hg":1.44},{"day":3.16,"hg":1.40},{"day":3.28,"hg":1.32},{"day":3.44,"hg":1.30},{"day":3.62,"hg":1.27},{"day":3.76,"hg":1.24},{"day":3.92,"hg":1.27},{"day":4.04,"hg":1.27},{"day":4.22,"hg":1.29},{"day":4.37,"hg":1.31},{"day":4.52,"hg":1.25},{"day":4.70,"hg":1.24},{"day":4.85,"hg":1.29},{"day":5.00,"hg":1.35},{"day":5.12,"hg":1.41},{"day":5.21,"hg":1.27},{"day":5.33,"hg":1.24},{"day":5.42,"hg":1.30},{"day":5.54,"hg":1.26},{"day":5.66,"hg":1.42},{"day":5.78,"hg":1.52},{"day":5.96,"hg":1.57},{"day":6.08,"hg":1.61},{"day":6.17,"hg":1.50},{"day":6.32,"hg":1.45},{"day":6.41,"hg":1.32},{"day":6.53,"hg":1.31},{"day":6.69,"hg":1.29},{"day":6.87,"hg":1.32},{"day":7.05,"hg":1.37},{"day":7.23,"hg":1.40},{"day":7.41,"hg":1.44},{"day":7.53,"hg":1.45},{"day":7.61,"hg":1.65},{"day":7.68,"hg":2.10},{"day":7.83,"hg":2.40},{"day":7.92,"hg":3.01},{"day":8.01,"hg":3.38},{"day":8.09,"hg":3.73},{"day":8.21,"hg":3.61},{"day":8.37,"hg":3.48},{"day":8.49,"hg":3.68},{"day":8.61,"hg":3.76},{"day":8.69,"hg":3.91},{"day":8.79,"hg":3.98},{"day":8.88,"hg":3.81},{"day":8.97,"hg":3.83},{"day":9.05,"hg":3.56},{"day":9.15,"hg":3.13},{"day":9.27,"hg":2.90},{"day":9.37,"hg":2.88},{"day":9.41,"hg":3.12},{"day":9.51,"hg":3.06},{"day":9.59,"hg":2.80},{"day":9.73,"hg":2.55},{"day":9.87,"hg":2.40},{"day":10.01,"hg":2.55},{"day":10.17,"hg":2.63},{"day":10.29,"hg":2.90},{"day":10.45,"hg":3.13},{"day":10.59,"hg":2.90},{"day":10.69,"hg":3.11},{"day":10.83,"hg":2.95},{"day":10.95,"hg":2.63},{"day":11.10,"hg":2.50},{"day":11.25,"hg":2.40},{"day":11.37,"hg":2.40},{"day":11.49,"hg":2.20},{"day":11.67,"hg":2.10},{"day":11.85,"hg":1.97},{"day":12.01,"hg":1.82},{"day":12.15,"hg":1.70},{"day":12.30,"hg":1.60},{"day":12.39,"hg":1.57},{"day":12.49,"hg":1.60},{"day":12.57,"hg":1.45},{"day":12.67,"hg":1.37},{"day":12.73,"hg":2.28},{"day":12.88,"hg":2.30},{"day":13.00,"hg":2.33},{"day":13.09,"hg":2.03},{"day":13.15,"hg":2.18},{"day":13.26,"hg":2.05},{"day":13.36,"hg":1.92},{"day":13.48,"hg":1.95},{"day":13.60,"hg":1.90},{"day":13.74,"hg":1.87},{"day":13.90,"hg":1.85},{"day":14.02,"hg":1.70},{"day":14.17,"hg":1.67},{"day":14.32,"hg":1.66},{"day":14.44,"hg":1.69},{"day":14.53,"hg":1.57},{"day":14.68,"hg":1.57},{"day":14.80,"hg":1.50},{"day":14.98,"hg":1.49},{"day":15.16,"hg":1.47},{"day":15.28,"hg":1.45},{"day":15.40,"hg":1.40},{"day":15.58,"hg":1.36},{"day":15.70,"hg":1.36},{"day":15.82,"hg":1.30},{"day":15.94,"hg":1.37},{"day":16.06,"hg":1.37},{"day":16.18,"hg":1.52},{"day":16.30,"hg":1.47},{"day":16.42,"hg":1.54},{"day":16.54,"hg":1.45},{"day":16.70,"hg":1.52},{"day":16.87,"hg":1.87},{"day":17.02,"hg":1.65},{"day":17.18,"hg":1.51},{"day":17.30,"hg":1.32},{"day":17.44,"hg":1.26},{"day":17.56,"hg":1.24},{"day":17.68,"hg":1.26},{"day":17.84,"hg":1.26},{"day":18.02,"hg":1.27},{"day":18.20,"hg":1.27},{"day":18.38,"hg":1.31},{"day":18.52,"hg":1.33},{"day":18.64,"hg":1.53},{"day":18.86,"hg":1.55},{"day":19.04,"hg":1.51},{"day":19.22,"hg":1.48},{"day":19.40,"hg":1.45},{"day":19.57,"hg":1.41},{"day":19.75,"hg":1.41},{"day":19.93,"hg":1.40},{"day":20.11,"hg":1.41},{"day":20.29,"hg":1.35},{"day":20.53,"hg":1.33},{"day":20.71,"hg":1.33},{"day":20.83,"hg":1.26},{"day":20.95,"hg":1.33},{"day":21.16,"hg":1.36},{"day":21.31,"hg":1.41},{"day":21.43,"hg":1.31},{"day":21.59,"hg":1.33},{"day":21.79,"hg":1.56},{"day":21.95,"hg":1.72},{"day":22.09,"hg":1.62},{"day":22.27,"hg":1.62},{"day":22.45,"hg":1.81},{"day":22.63,"hg":1.86},{"day":22.81,"hg":1.79},{"day":22.99,"hg":1.72},{"day":23.17,"hg":1.71},{"day":23.35,"hg":1.69},{"day":23.53,"hg":1.81},{"day":23.71,"hg":1.79},{"day":23.86,"hg":1.94},{"day":24.01,"hg":2.07},{"day":24.13,"hg":2.16},{"day":24.25,"hg":2.52},{"day":24.37,"hg":3.06},{"day":24.49,"hg":2.82},{"day":24.60,"hg":2.09},{"day":24.72,"hg":1.96},{"day":24.84,"hg":1.72},{"day":24.99,"hg":1.66},{"day":25.11,"hg":1.76},{"day":25.26,"hg":1.64},{"day":25.42,"hg":1.64},{"day":25.56,"hg":1.51},{"day":25.74,"hg":1.51},{"day":25.92,"hg":1.48},{"day":26.10,"hg":1.48},{"day":26.26,"hg":1.45},{"day":26.40,"hg":1.35},{"day":26.58,"hg":1.35},{"day":26.76,"hg":1.25},{"day":26.88,"hg":1.36},{"day":27.00,"hg":1.26},{"day":27.12,"hg":1.36},{"day":27.30,"hg":1.45},{"day":27.46,"hg":1.41},{"day":27.66,"hg":1.45},{"day":27.84,"hg":1.48},{"day":27.98,"hg":1.46},{"day":28.14,"hg":1.46},{"day":28.32,"hg":1.43},{"day":28.44,"hg":1.48},{"day":28.56,"hg":1.40},{"day":28.68,"hg":1.43},{"day":28.86,"hg":1.52},{"day":29.04,"hg":1.64},{"day":29.16,"hg":1.52},{"day":29.28,"hg":1.46},{"day":29.42,"hg":1.36},{"day":29.61,"hg":1.27},{"day":29.75,"hg":1.31},{"day":29.90,"hg":1.38},{"day":30.05,"hg":1.46},{"day":30.21,"hg":1.50},{"day":30.35,"hg":2.01},{"day":30.50,"hg":2.21},{"day":30.65,"hg":2.34},{"day":30.77,"hg":2.16},{"day":30.86,"hg":2.25},{"day":30.95,"hg":1.91},{"day":31.07,"hg":1.81},{"day":31.22,"hg":1.89},{"day":31.34,"hg":1.91},{"day":31.46,"hg":1.89},{"day":31.57,"hg":1.71},{"day":31.73,"hg":1.64},{"day":31.85,"hg":1.51},{"day":31.99,"hg":1.55}],
    "w4": [{"day":1.00,"deg":347},{"day":1.07,"deg":337},{"day":1.16,"deg":344},{"day":1.24,"deg":348},{"day":1.34,"deg":339},{"day":1.43,"deg":326},{"day":1.52,"deg":322},{"day":1.60,"deg":329},{"day":1.70,"deg":332},{"day":1.79,"deg":345},{"day":1.88,"deg":344},{"day":2.00,"deg":343},{"day":2.12,"deg":344},{"day":2.20,"deg":350},{"day":2.32,"deg":348},{"day":2.44,"deg":347},{"day":2.51,"deg":344},{"day":2.66,"deg":356},{"day":2.78,"deg":353},{"day":2.99,"deg":356},{"day":3.14,"deg":360},{"day":2.63,"deg":10},{"day":2.84,"deg":7},{"day":3.02,"deg":10},{"day":3.20,"deg":28},{"day":3.32,"deg":27},{"day":3.40,"deg":10},{"day":3.48,"deg":1},{"day":3.56,"deg":23},{"day":3.64,"deg":1},{"day":3.72,"deg":15},{"day":3.80,"deg":25},{"day":3.88,"deg":28},{"day":3.98,"deg":38},{"day":4.08,"deg":40},{"day":4.16,"deg":40},{"day":4.25,"deg":38},{"day":4.34,"deg":50},{"day":4.43,"deg":33},{"day":4.49,"deg":53},{"day":4.61,"deg":63},{"day":4.70,"deg":75},{"day":4.80,"deg":63},{"day":4.92,"deg":71},{"day":5.04,"deg":62},{"day":5.12,"deg":58},{"day":5.21,"deg":119},{"day":5.30,"deg":126},{"day":5.36,"deg":144},{"day":5.45,"deg":129},{"day":5.54,"deg":102},{"day":5.60,"deg":153},{"day":5.72,"deg":22},{"day":5.78,"deg":19},{"day":5.88,"deg":32},{"day":5.96,"deg":42},{"day":6.05,"deg":59},{"day":6.12,"deg":81},{"day":6.20,"deg":107},{"day":6.32,"deg":77},{"day":6.41,"deg":90},{"day":6.48,"deg":162},{"day":6.56,"deg":100},{"day":6.65,"deg":133},{"day":6.75,"deg":140},{"day":6.83,"deg":144},{"day":6.90,"deg":151},{"day":6.96,"deg":155},{"day":7.08,"deg":213},{"day":7.18,"deg":170},{"day":7.25,"deg":199},{"day":7.35,"deg":212},{"day":7.43,"deg":239},{"day":7.53,"deg":262},{"day":7.61,"deg":286},{"day":7.68,"deg":335},{"day":7.77,"deg":343},{"day":7.85,"deg":354},{"day":7.92,"deg":16},{"day":8.01,"deg":15},{"day":8.09,"deg":42},{"day":8.16,"deg":56},{"day":8.25,"deg":155},{"day":8.37,"deg":189},{"day":8.45,"deg":194},{"day":8.52,"deg":244},{"day":8.61,"deg":255},{"day":8.69,"deg":308},{"day":8.79,"deg":223},{"day":8.88,"deg":194},{"day":8.97,"deg":189},{"day":9.07,"deg":187},{"day":9.17,"deg":187},{"day":9.23,"deg":163},{"day":9.33,"deg":198},{"day":9.39,"deg":131},{"day":9.47,"deg":118},{"day":9.55,"deg":119},{"day":9.63,"deg":119},{"day":9.75,"deg":154},{"day":9.83,"deg":173},{"day":9.89,"deg":181},{"day":9.99,"deg":154},{"day":10.09,"deg":145},{"day":10.17,"deg":135},{"day":10.27,"deg":118},{"day":10.35,"deg":123},{"day":10.47,"deg":139},{"day":10.57,"deg":126},{"day":10.65,"deg":142},{"day":10.77,"deg":142},{"day":10.87,"deg":137},{"day":10.95,"deg":131},{"day":11.07,"deg":128},{"day":11.19,"deg":136},{"day":11.29,"deg":173},{"day":11.40,"deg":145},{"day":11.49,"deg":147},{"day":11.59,"deg":175},{"day":11.67,"deg":169},{"day":11.77,"deg":153},{"day":11.85,"deg":197},{"day":11.95,"deg":191},{"day":12.03,"deg":216},{"day":12.13,"deg":220},{"day":12.25,"deg":220},{"day":12.37,"deg":234},{"day":12.48,"deg":242},{"day":12.57,"deg":242},{"day":12.67,"deg":357},{"day":12.75,"deg":354},{"day":12.88,"deg":3},{"day":12.97,"deg":17},{"day":13.06,"deg":24},{"day":13.18,"deg":24},{"day":13.30,"deg":22},{"day":13.38,"deg":41},{"day":13.48,"deg":35},{"day":13.60,"deg":56},{"day":13.69,"deg":53},{"day":13.81,"deg":53},{"day":13.90,"deg":36},{"day":13.99,"deg":72},{"day":14.08,"deg":56},{"day":14.17,"deg":56},{"day":14.26,"deg":69},{"day":14.34,"deg":62},{"day":14.44,"deg":92},{"day":14.52,"deg":106},{"day":14.62,"deg":31},{"day":14.70,"deg":8},{"day":14.80,"deg":25},{"day":14.92,"deg":30},{"day":15.01,"deg":32},{"day":15.10,"deg":58},{"day":15.22,"deg":58},{"day":15.30,"deg":58},{"day":15.40,"deg":47},{"day":15.52,"deg":76},{"day":15.64,"deg":54},{"day":15.76,"deg":108},{"day":15.88,"deg":76},{"day":15.98,"deg":17},{"day":16.06,"deg":15},{"day":16.14,"deg":8},{"day":16.24,"deg":17},{"day":16.36,"deg":19},{"day":16.48,"deg":14},{"day":16.60,"deg":17},{"day":16.72,"deg":22},{"day":16.84,"deg":19},{"day":16.96,"deg":27},{"day":17.06,"deg":22},{"day":17.20,"deg":22},{"day":17.32,"deg":31},{"day":17.44,"deg":35},{"day":17.54,"deg":44},{"day":17.62,"deg":51},{"day":17.71,"deg":28},{"day":17.90,"deg":24},{"day":17.99,"deg":42},{"day":18.08,"deg":51},{"day":18.20,"deg":28},{"day":18.28,"deg":29},{"day":18.44,"deg":32},{"day":18.52,"deg":40},{"day":18.62,"deg":36},{"day":18.74,"deg":27},{"day":18.86,"deg":42},{"day":18.98,"deg":54},{"day":19.07,"deg":62},{"day":19.16,"deg":43},{"day":19.28,"deg":73},{"day":19.40,"deg":78},{"day":19.51,"deg":91},{"day":19.60,"deg":105},{"day":19.69,"deg":106},{"day":19.79,"deg":97},{"day":19.87,"deg":113},{"day":19.96,"deg":105},{"day":20.05,"deg":119},{"day":20.17,"deg":118},{"day":20.27,"deg":127},{"day":20.35,"deg":139},{"day":20.47,"deg":161},{"day":20.56,"deg":214},{"day":20.65,"deg":238},{"day":20.71,"deg":250},{"day":20.80,"deg":159},{"day":20.89,"deg":183},{"day":20.99,"deg":196},{"day":21.07,"deg":211},{"day":21.13,"deg":215},{"day":21.23,"deg":344},{"day":21.31,"deg":350},{"day":21.40,"deg":348},{"day":21.49,"deg":344},{"day":21.61,"deg":339},{"day":21.71,"deg":351},{"day":21.80,"deg":321},{"day":21.91,"deg":14},{"day":21.99,"deg":11},{"day":22.09,"deg":26},{"day":22.19,"deg":32},{"day":22.27,"deg":16},{"day":22.35,"deg":14},{"day":22.45,"deg":354},{"day":22.57,"deg":2},{"day":22.66,"deg":11},{"day":22.75,"deg":7},{"day":22.81,"deg":360},{"day":22.93,"deg":11},{"day":23.02,"deg":5},{"day":23.11,"deg":9},{"day":23.23,"deg":358},{"day":23.35,"deg":353},{"day":23.47,"deg":351},{"day":23.59,"deg":352},{"day":23.71,"deg":353},{"day":23.83,"deg":353},{"day":23.95,"deg":348},{"day":24.07,"deg":353},{"day":24.19,"deg":352},{"day":24.31,"deg":351},{"day":24.34,"deg":1},{"day":24.43,"deg":355},{"day":24.51,"deg":349},{"day":24.60,"deg":353},{"day":24.72,"deg":358},{"day":24.72,"deg":5},{"day":24.84,"deg":355},{"day":24.99,"deg":360},{"day":25.11,"deg":360},{"day":25.18,"deg":2},{"day":25.30,"deg":10},{"day":25.42,"deg":11},{"day":25.56,"deg":23},{"day":25.66,"deg":24},{"day":25.74,"deg":9},{"day":25.80,"deg":29},{"day":25.90,"deg":44},{"day":25.98,"deg":36},{"day":26.08,"deg":45},{"day":26.19,"deg":49},{"day":26.28,"deg":48},{"day":26.40,"deg":161},{"day":26.46,"deg":35},{"day":26.54,"deg":100},{"day":26.66,"deg":100},{"day":26.76,"deg":129},{"day":26.82,"deg":111},{"day":26.90,"deg":120},{"day":27.00,"deg":127},{"day":27.08,"deg":104},{"day":27.18,"deg":20},{"day":27.26,"deg":37},{"day":27.36,"deg":32},{"day":27.46,"deg":14},{"day":27.54,"deg":25},{"day":27.62,"deg":25},{"day":27.72,"deg":29},{"day":27.81,"deg":36},{"day":27.90,"deg":42},{"day":27.98,"deg":33},{"day":28.08,"deg":41},{"day":28.17,"deg":50},{"day":28.26,"deg":67},{"day":28.35,"deg":106},{"day":28.44,"deg":24},{"day":28.53,"deg":258},{"day":28.62,"deg":263},{"day":28.70,"deg":268},{"day":28.80,"deg":316},{"day":28.89,"deg":337},{"day":28.56,"deg":7},{"day":28.89,"deg":18},{"day":28.98,"deg":16},{"day":29.04,"deg":42},{"day":29.13,"deg":18},{"day":29.22,"deg":32},{"day":29.31,"deg":7},{"day":29.40,"deg":14},{"day":29.49,"deg":16},{"day":29.54,"deg":351},{"day":29.63,"deg":298},{"day":29.73,"deg":344},{"day":29.81,"deg":350},{"day":29.90,"deg":5},{"day":29.99,"deg":350},{"day":30.09,"deg":355},{"day":30.17,"deg":7},{"day":30.29,"deg":20},{"day":30.41,"deg":42},{"day":30.50,"deg":357},{"day":30.59,"deg":358},{"day":30.65,"deg":24},{"day":30.74,"deg":27},{"day":30.83,"deg":38},{"day":30.95,"deg":19},{"day":31.07,"deg":14},{"day":31.17,"deg":14},{"day":31.25,"deg":14},{"day":31.35,"deg":32},{"day":31.43,"deg":18},{"day":31.53,"deg":16},{"day":31.61,"deg":18},{"day":31.69,"deg":2},{"day":31.79,"deg":18},{"day":31.85,"deg":24},{"day":31.93,"deg":18}],
    "h5": [{"day":1.00,"hg":1.54},{"day":1.11,"hg":1.47},{"day":1.23,"hg":1.37},{"day":1.34,"hg":1.41},{"day":1.46,"hg":1.43},{"day":1.57,"hg":1.38},{"day":1.72,"hg":1.41},{"day":1.83,"hg":1.38},{"day":1.94,"hg":1.40},{"day":2.06,"hg":1.37},{"day":2.17,"hg":1.41},{"day":2.29,"hg":1.37},{"day":2.40,"hg":1.33},{"day":2.57,"hg":1.28},{"day":2.68,"hg":1.30},{"day":2.80,"hg":1.38},{"day":2.91,"hg":1.36},{"day":3.03,"hg":1.37},{"day":3.20,"hg":1.41},{"day":3.31,"hg":1.30},{"day":3.42,"hg":1.46},{"day":3.54,"hg":1.65},{"day":3.65,"hg":1.78},{"day":3.76,"hg":1.93},{"day":3.88,"hg":1.72},{"day":3.99,"hg":1.49},{"day":4.11,"hg":1.72},{"day":4.22,"hg":1.86},{"day":4.33,"hg":1.72},{"day":4.50,"hg":1.70},{"day":4.62,"hg":1.51},{"day":4.79,"hg":1.38},{"day":4.94,"hg":1.33},{"day":4.96,"hg":1.54},{"day":5.04,"hg":1.30},{"day":5.21,"hg":1.30},{"day":5.41,"hg":1.29},{"day":5.64,"hg":1.26},{"day":5.87,"hg":1.25},{"day":6.10,"hg":1.20},{"day":6.27,"hg":1.17},{"day":6.44,"hg":1.25},{"day":6.61,"hg":1.36},{"day":6.78,"hg":1.57},{"day":6.89,"hg":1.83},{"day":7.03,"hg":1.67},{"day":7.18,"hg":1.59},{"day":7.35,"hg":1.49},{"day":7.52,"hg":1.28},{"day":7.69,"hg":1.25},{"day":7.92,"hg":1.26},{"day":8.09,"hg":1.28},{"day":8.26,"hg":1.30},{"day":8.39,"hg":1.33},{"day":8.54,"hg":1.25},{"day":8.69,"hg":1.28},{"day":8.83,"hg":1.17},{"day":9.00,"hg":1.28},{"day":9.11,"hg":1.30},{"day":9.28,"hg":1.28},{"day":9.45,"hg":1.26},{"day":9.57,"hg":1.36},{"day":9.74,"hg":1.49},{"day":9.87,"hg":1.59},{"day":10.02,"hg":1.75},{"day":10.14,"hg":1.72},{"day":10.25,"hg":1.38},{"day":10.36,"hg":1.43},{"day":10.51,"hg":1.41},{"day":10.65,"hg":1.43},{"day":10.76,"hg":1.50},{"day":10.90,"hg":1.59},{"day":11.05,"hg":1.57},{"day":11.16,"hg":1.49},{"day":11.27,"hg":1.46},{"day":11.39,"hg":1.36},{"day":11.56,"hg":1.38},{"day":11.73,"hg":1.33},{"day":11.90,"hg":1.31},{"day":12.01,"hg":1.30},{"day":12.18,"hg":1.49},{"day":12.33,"hg":1.62},{"day":12.49,"hg":1.68},{"day":12.58,"hg":1.63},{"day":12.70,"hg":1.46},{"day":12.81,"hg":1.56},{"day":12.92,"hg":1.45},{"day":13.09,"hg":1.41},{"day":13.26,"hg":1.38},{"day":13.43,"hg":1.42},{"day":13.61,"hg":1.35},{"day":13.78,"hg":1.41},{"day":13.95,"hg":1.41},{"day":14.12,"hg":1.36},{"day":14.29,"hg":1.30},{"day":14.46,"hg":1.28},{"day":14.63,"hg":1.26},{"day":14.80,"hg":1.25},{"day":15.00,"hg":1.20},{"day":15.14,"hg":1.33},{"day":15.31,"hg":1.43},{"day":15.48,"hg":1.42},{"day":15.65,"hg":1.38},{"day":15.77,"hg":1.49},{"day":15.88,"hg":1.41},{"day":15.99,"hg":1.47},{"day":16.11,"hg":1.51},{"day":16.28,"hg":1.68},{"day":16.43,"hg":1.57},{"day":16.56,"hg":1.31},{"day":16.68,"hg":1.28},{"day":16.85,"hg":1.24},{"day":17.02,"hg":1.23},{"day":17.19,"hg":1.38},{"day":17.36,"hg":1.49},{"day":17.53,"hg":1.56},{"day":17.67,"hg":1.51},{"day":17.81,"hg":1.49},{"day":17.93,"hg":1.41},{"day":18.01,"hg":1.35},{"day":18.15,"hg":1.65},{"day":18.32,"hg":1.59},{"day":18.49,"hg":1.36},{"day":18.66,"hg":1.23},{"day":18.83,"hg":1.19},{"day":19.00,"hg":1.23},{"day":19.23,"hg":1.25},{"day":19.40,"hg":1.28},{"day":19.51,"hg":1.23},{"day":19.68,"hg":1.19},{"day":19.85,"hg":1.23},{"day":19.97,"hg":1.26},{"day":20.14,"hg":1.21},{"day":20.31,"hg":1.28},{"day":20.48,"hg":1.35},{"day":20.65,"hg":1.70},{"day":20.82,"hg":1.75},{"day":21.05,"hg":1.75},{"day":21.16,"hg":1.86},{"day":21.27,"hg":1.91},{"day":21.39,"hg":1.73},{"day":21.61,"hg":1.62},{"day":21.78,"hg":1.54},{"day":21.95,"hg":1.45},{"day":22.12,"hg":1.42},{"day":22.29,"hg":1.32},{"day":22.43,"hg":1.29},{"day":22.61,"hg":1.15},{"day":22.75,"hg":1.19},{"day":22.92,"hg":1.25},{"day":23.09,"hg":1.28},{"day":23.18,"hg":1.31},{"day":23.26,"hg":1.62},{"day":23.31,"hg":1.99},{"day":23.43,"hg":2.83},{"day":23.54,"hg":4.00},{"day":23.63,"hg":3.83},{"day":23.74,"hg":3.36},{"day":23.82,"hg":1.91},{"day":23.90,"hg":1.46},{"day":24.02,"hg":1.49},{"day":24.11,"hg":1.35},{"day":24.22,"hg":1.38},{"day":24.39,"hg":1.33},{"day":24.56,"hg":1.31},{"day":24.76,"hg":1.31},{"day":24.96,"hg":1.36},{"day":25.13,"hg":1.38},{"day":25.30,"hg":1.36},{"day":25.44,"hg":1.38},{"day":25.58,"hg":1.28},{"day":25.75,"hg":1.17},{"day":25.90,"hg":1.16},{"day":26.03,"hg":1.17},{"day":26.20,"hg":1.16},{"day":26.37,"hg":1.20},{"day":26.49,"hg":1.15},{"day":26.60,"hg":1.24},{"day":26.71,"hg":1.52},{"day":26.83,"hg":1.62},{"day":26.94,"hg":2.20},{"day":27.05,"hg":2.73},{"day":27.17,"hg":1.75},{"day":27.28,"hg":1.54},{"day":27.39,"hg":1.73},{"day":27.49,"hg":1.86},{"day":27.60,"hg":1.57},{"day":27.73,"hg":1.36},{"day":27.90,"hg":1.38},{"day":28.07,"hg":1.37},{"day":28.24,"hg":1.40},{"day":28.41,"hg":1.52},{"day":28.51,"hg":1.62},{"day":28.62,"hg":1.56},{"day":28.76,"hg":1.59},{"day":28.87,"hg":1.49},{"day":29.04,"hg":1.41},{"day":29.21,"hg":1.52},{"day":29.32,"hg":1.52},{"day":29.46,"hg":1.52},{"day":29.55,"hg":1.62},{"day":29.66,"hg":2.09},{"day":29.75,"hg":2.12},{"day":29.83,"hg":1.94},{"day":29.91,"hg":1.99},{"day":30.00,"hg":1.83}],
    "w5": [{"day":1.00,"deg":25},{"day":1.09,"deg":35},{"day":1.18,"deg":33},{"day":1.30,"deg":33},{"day":1.38,"deg":49},{"day":1.46,"deg":42},{"day":1.57,"deg":51},{"day":1.66,"deg":53},{"day":1.74,"deg":51},{"day":1.82,"deg":77},{"day":1.90,"deg":94},{"day":1.98,"deg":117},{"day":2.07,"deg":131},{"day":2.16,"deg":141},{"day":2.25,"deg":117},{"day":2.32,"deg":117},{"day":2.41,"deg":140},{"day":2.48,"deg":186},{"day":2.57,"deg":186},{"day":2.68,"deg":188},{"day":2.75,"deg":198},{"day":2.85,"deg":349},{"day":2.93,"deg":11},{"day":3.00,"deg":356},{"day":3.08,"deg":342},{"day":3.16,"deg":326},{"day":3.25,"deg":348},{"day":3.34,"deg":345},{"day":3.42,"deg":348},{"day":3.54,"deg":344},{"day":3.62,"deg":345},{"day":3.71,"deg":353},{"day":3.84,"deg":11},{"day":3.94,"deg":6},{"day":4.05,"deg":17},{"day":4.14,"deg":9},{"day":4.22,"deg":6},{"day":4.30,"deg":22},{"day":4.39,"deg":27},{"day":4.50,"deg":347},{"day":4.58,"deg":356},{"day":4.67,"deg":17},{"day":4.79,"deg":23},{"day":4.87,"deg":23},{"day":4.96,"deg":42},{"day":5.05,"deg":32},{"day":5.12,"deg":44},{"day":5.19,"deg":61},{"day":5.28,"deg":68},{"day":5.37,"deg":82},{"day":5.47,"deg":79},{"day":5.53,"deg":90},{"day":5.62,"deg":84},{"day":5.70,"deg":96},{"day":5.79,"deg":115},{"day":5.87,"deg":96},{"day":5.98,"deg":61},{"day":6.07,"deg":42},{"day":6.15,"deg":32},{"day":6.23,"deg":33},{"day":6.32,"deg":23},{"day":6.41,"deg":24},{"day":6.49,"deg":11},{"day":6.57,"deg":9},{"day":6.67,"deg":12},{"day":6.76,"deg":13},{"day":6.84,"deg":9},{"day":6.92,"deg":18},{"day":7.01,"deg":22},{"day":7.10,"deg":17},{"day":7.21,"deg":17},{"day":7.35,"deg":14},{"day":7.44,"deg":27},{"day":7.52,"deg":32},{"day":7.63,"deg":14},{"day":7.71,"deg":27},{"day":7.80,"deg":33},{"day":7.92,"deg":37},{"day":8.03,"deg":51},{"day":8.12,"deg":49},{"day":8.20,"deg":49},{"day":8.28,"deg":38},{"day":8.37,"deg":57},{"day":8.46,"deg":68},{"day":8.54,"deg":82},{"day":8.62,"deg":77},{"day":8.71,"deg":76},{"day":8.80,"deg":79},{"day":8.90,"deg":78},{"day":8.96,"deg":78},{"day":9.08,"deg":103},{"day":9.17,"deg":89},{"day":9.26,"deg":41},{"day":9.34,"deg":41},{"day":9.42,"deg":30},{"day":9.51,"deg":23},{"day":9.62,"deg":18},{"day":9.74,"deg":20},{"day":9.85,"deg":24},{"day":9.96,"deg":22},{"day":10.08,"deg":23},{"day":10.19,"deg":24},{"day":10.31,"deg":20},{"day":10.42,"deg":18},{"day":10.53,"deg":9},{"day":10.65,"deg":9},{"day":10.76,"deg":18},{"day":10.87,"deg":18},{"day":10.99,"deg":17},{"day":11.10,"deg":14},{"day":11.22,"deg":11},{"day":11.31,"deg":38},{"day":11.39,"deg":46},{"day":11.47,"deg":32},{"day":11.53,"deg":360},{"day":11.65,"deg":351},{"day":11.73,"deg":360},{"day":11.84,"deg":354},{"day":11.96,"deg":351},{"day":12.07,"deg":347},{"day":12.16,"deg":335},{"day":12.24,"deg":347},{"day":12.35,"deg":351},{"day":12.47,"deg":348},{"day":12.56,"deg":347},{"day":12.67,"deg":342},{"day":12.75,"deg":349},{"day":12.87,"deg":359},{"day":12.98,"deg":1},{"day":13.06,"deg":354},{"day":13.17,"deg":347},{"day":13.29,"deg":351},{"day":13.43,"deg":359},{"day":13.55,"deg":1},{"day":13.58,"deg":356},{"day":13.70,"deg":351},{"day":13.78,"deg":1},{"day":13.89,"deg":9},{"day":13.97,"deg":12},{"day":14.08,"deg":359},{"day":14.17,"deg":6},{"day":14.29,"deg":354},{"day":14.38,"deg":6},{"day":14.46,"deg":356},{"day":14.54,"deg":12},{"day":14.65,"deg":4},{"day":14.72,"deg":359},{"day":14.80,"deg":18},{"day":14.89,"deg":24},{"day":14.97,"deg":13},{"day":15.06,"deg":9},{"day":15.18,"deg":16},{"day":15.28,"deg":20},{"day":15.37,"deg":44},{"day":15.43,"deg":344},{"day":15.52,"deg":348},{"day":15.60,"deg":345},{"day":15.71,"deg":6},{"day":15.79,"deg":14},{"day":15.91,"deg":22},{"day":16.00,"deg":13},{"day":16.13,"deg":6},{"day":16.24,"deg":360},{"day":16.34,"deg":20},{"day":16.45,"deg":23},{"day":16.56,"deg":23},{"day":16.65,"deg":28},{"day":16.73,"deg":32},{"day":16.83,"deg":13},{"day":16.91,"deg":16},{"day":16.99,"deg":27},{"day":17.08,"deg":30},{"day":17.17,"deg":32},{"day":17.25,"deg":30},{"day":17.34,"deg":46},{"day":17.42,"deg":38},{"day":17.51,"deg":35},{"day":17.59,"deg":39},{"day":17.70,"deg":42},{"day":17.81,"deg":30},{"day":17.89,"deg":42},{"day":17.98,"deg":51},{"day":18.07,"deg":39},{"day":18.15,"deg":44},{"day":18.27,"deg":54},{"day":18.38,"deg":56},{"day":18.49,"deg":54},{"day":18.57,"deg":75},{"day":18.66,"deg":68},{"day":18.78,"deg":75},{"day":18.87,"deg":51},{"day":18.95,"deg":58},{"day":19.06,"deg":63},{"day":19.17,"deg":46},{"day":19.29,"deg":60},{"day":19.40,"deg":37},{"day":19.48,"deg":36},{"day":19.59,"deg":37},{"day":19.71,"deg":35},{"day":19.80,"deg":46},{"day":19.89,"deg":54},{"day":19.97,"deg":58},{"day":20.08,"deg":56},{"day":20.19,"deg":54},{"day":20.34,"deg":23},{"day":20.46,"deg":25},{"day":20.54,"deg":25},{"day":20.65,"deg":35},{"day":20.73,"deg":32},{"day":20.82,"deg":51},{"day":20.93,"deg":56},{"day":21.05,"deg":44},{"day":21.16,"deg":68},{"day":21.25,"deg":65},{"day":21.33,"deg":90},{"day":22.01,"deg":129},{"day":22.10,"deg":134},{"day":22.18,"deg":134},{"day":22.27,"deg":150},{"day":22.35,"deg":200},{"day":22.43,"deg":218},{"day":22.52,"deg":241},{"day":22.63,"deg":238},{"day":22.75,"deg":241},{"day":22.84,"deg":237},{"day":22.92,"deg":235},{"day":23.00,"deg":222},{"day":23.09,"deg":235},{"day":23.20,"deg":244},{"day":23.29,"deg":18},{"day":23.37,"deg":12},{"day":23.48,"deg":9},{"day":23.56,"deg":1},{"day":23.63,"deg":360},{"day":23.74,"deg":19},{"day":23.82,"deg":13},{"day":23.94,"deg":13},{"day":24.05,"deg":353},{"day":24.08,"deg":11},{"day":24.16,"deg":9},{"day":24.28,"deg":22},{"day":24.39,"deg":16},{"day":24.50,"deg":27},{"day":24.62,"deg":27},{"day":24.70,"deg":30},{"day":24.79,"deg":30},{"day":24.88,"deg":51},{"day":24.96,"deg":56},{"day":25.07,"deg":65},{"day":25.15,"deg":37},{"day":25.24,"deg":54},{"day":25.33,"deg":54},{"day":25.41,"deg":63},{"day":25.52,"deg":96},{"day":25.60,"deg":102},{"day":25.69,"deg":128},{"day":25.78,"deg":120},{"day":25.86,"deg":125},{"day":25.94,"deg":136},{"day":26.03,"deg":132},{"day":26.12,"deg":144},{"day":26.20,"deg":144},{"day":26.32,"deg":151},{"day":26.43,"deg":151},{"day":26.54,"deg":192},{"day":26.62,"deg":229},{"day":26.71,"deg":351},{"day":26.80,"deg":352},{"day":26.88,"deg":351},{"day":26.96,"deg":339},{"day":27.05,"deg":350},{"day":27.15,"deg":347},{"day":27.22,"deg":352},{"day":27.34,"deg":347},{"day":27.45,"deg":352},{"day":27.53,"deg":350},{"day":27.62,"deg":352},{"day":27.71,"deg":354},{"day":27.79,"deg":359},{"day":27.85,"deg":18},{"day":27.94,"deg":23},{"day":28.02,"deg":25},{"day":28.10,"deg":25},{"day":28.19,"deg":25},{"day":28.28,"deg":27},{"day":28.36,"deg":25},{"day":28.44,"deg":17},{"day":28.53,"deg":30},{"day":28.62,"deg":355},{"day":28.70,"deg":9},{"day":28.78,"deg":11},{"day":28.87,"deg":9},{"day":28.96,"deg":330},{"day":29.04,"deg":316},{"day":29.12,"deg":264},{"day":29.21,"deg":271},{"day":29.30,"deg":276},{"day":29.38,"deg":267},{"day":29.46,"deg":297},{"day":29.55,"deg":297},{"day":29.64,"deg":330},{"day":29.72,"deg":324},{"day":29.80,"deg":283},{"day":29.89,"deg":302},{"day":29.98,"deg":295}]
  },
  "vconcat": [
    {
      "width": 1290, "height": 338,
      "resolve": {"scale": {"y": "independent"}, "axis": {"y": "independent"}},
      "layer": [
        {
          "data": {"name": "h1"},
          "mark": {"type": "line", "strokeWidth": 1.8},
          "encoding": {
            "x": {"field": "day", "type": "quantitative", "scale": {"domain": [1, 32], "range": [61.4, 1228.3], "nice": false, "zero": false},
              "axis": {"orient": "bottom", "offset": -38, "values": [1,2,3,4,5,6,7,8,9,10,11,12,13,14,15,16,17,18,19,20,21,22,23,24,25,26,27,28,29,30,31,32], "labelExpr": "datum.value < 32 ? '10/' + datum.value : '11/1'", "title": null, "tickSize": -4, "labelPadding": 16, "labelOverlap": false, "labelFlush": false, "grid": false}},
            "y": {"field": "hg", "type": "quantitative", "scale": {"domain": [0, 4], "range": [300, 34.3], "nice": false, "zero": false},
              "axis": {"orient": "left", "offset": -61.4, "values": [0,1,2,3,4], "title": "Hg(0) (ng/m3)", "grid": true, "ticks": false, "labelPadding": 16, "titlePadding": 8, "labelFlush": false}},
            "color": {"datum": "Hg0(0710)", "type": "nominal", "scale": {"domain": ["Hg0(0710)", "風向(0710)"], "range": ["#000080", "#000000"]},
              "legend": {"orient": "none", "legendX": 980, "legendY": 5, "direction": "horizontal", "title": null, "padding": 3, "strokeColor": "#444444", "fillColor": "#ffffff", "symbolSize": 100, "symbolOffset": 22, "labelOffset": 12, "columnPadding": 24, "labelFont": "Liberation Serif, Noto Sans CJK JP", "labelFontSize": 12, "labelColor": "#111111",
                "encode": {"symbols": {"update": {"shape": {"signal": "datum.value === 'Hg0(0710)' ? 'stroke' : 'square'"}, "size": {"signal": "datum.value === 'Hg0(0710)' ? 900 : 34"}, "stroke": {"signal": "datum.value === 'Hg0(0710)' ? '#000080' : 'transparent'"}, "fill": {"signal": "datum.value === 'Hg0(0710)' ? 'transparent' : '#000000'"}, "strokeWidth": {"value": 2}, "opacity": {"value": 1}}}}}}
          }
        },
        {
          "data": {"name": "w1"},
          "mark": {"type": "square", "size": 36, "opacity": 1},
          "encoding": {
            "x": {"field": "day", "type": "quantitative"},
            "y": {"field": "deg", "type": "quantitative", "scale": {"domain": [0, 360], "range": [300, 34.3], "nice": false, "zero": false},
              "axis": {"orient": "right", "offset": -61.7, "values": [0,45,90,135,180,225,270,315,360], "title": "風向（°）", "titleFont": "Noto Sans CJK JP", "titleFontSize": 10, "titleAngle": 270, "grid": false, "tickSize": -4, "labelPadding": 13, "titlePadding": 11, "labelFlush": false}},
            "color": {"datum": "風向(0710)", "type": "nominal"}
          }
        },
        {
          "data": {"name": "compass"},
          "mark": {"type": "point", "opacity": 0},
          "encoding": {
            "y": {"field": "deg", "type": "quantitative", "scale": {"domain": [0, 360], "range": [311, 37.7], "nice": false, "zero": false},
              "axis": {"orient": "right", "offset": 0, "values": [0,45,90,135,180,225,270,315,360], "labelExpr": "['N','NE','E','SE','S','SW','W','NW','N'][round(datum.value / 45)]", "domain": false, "ticks": false, "grid": false, "title": null, "labelPadding": 3, "labelFont": "Liberation Serif", "labelFontSize": 20, "labelColor": "#000000", "labelFlush": false}}
          }
        }
      ]
    },
    {
      "width": 1290, "height": 339,
      "resolve": {"scale": {"y": "independent"}, "axis": {"y": "independent"}},
      "layer": [
        {
          "data": {"name": "h2"},
          "mark": {"type": "line", "strokeWidth": 1.8},
          "encoding": {
            "x": {"field": "day", "type": "quantitative", "scale": {"domain": [1, 31], "range": [61.4, 1229.2], "nice": false, "zero": false},
              "axis": {"orient": "bottom", "offset": -37.5, "values": [1,2,3,4,5,6,7,8,9,10,11,12,13,14,15,16,17,18,19,20,21,22,23,24,25,26,27,28,29,30,31], "labelExpr": "datum.value < 31 ? '11/' + datum.value : '12/1'", "title": null, "tickSize": -4, "labelPadding": 16, "labelOverlap": false, "labelFlush": false, "grid": false}},
            "y": {"field": "hg", "type": "quantitative", "scale": {"domain": [0, 4], "range": [301.5, 34.2], "nice": false, "zero": false},
              "axis": {"orient": "left", "offset": -61.4, "values": [0,1,2,3,4], "title": "Hg(0) (ng/m3)", "grid": true, "ticks": false, "labelPadding": 16, "titlePadding": 8, "labelFlush": false}},
            "color": {"datum": "Hg0(200711)", "type": "nominal", "scale": {"domain": ["Hg0(200711)", "風向(200711)"], "range": ["#000080", "#000000"]},
              "legend": {"orient": "none", "legendX": 944, "legendY": 4.5, "direction": "horizontal", "title": null, "padding": 3, "strokeColor": "#444444", "fillColor": "#ffffff", "symbolSize": 100, "symbolOffset": 22, "labelOffset": 12, "columnPadding": 24, "labelFont": "Liberation Serif, Noto Sans CJK JP", "labelFontSize": 12, "labelColor": "#111111",
                "encode": {"symbols": {"update": {"shape": {"signal": "datum.value === 'Hg0(200711)' ? 'stroke' : 'square'"}, "size": {"signal": "datum.value === 'Hg0(200711)' ? 900 : 34"}, "stroke": {"signal": "datum.value === 'Hg0(200711)' ? '#000080' : 'transparent'"}, "fill": {"signal": "datum.value === 'Hg0(200711)' ? 'transparent' : '#000000'"}, "strokeWidth": {"value": 2}, "opacity": {"value": 1}}}}}}
          }
        },
        {
          "data": {"name": "w2"},
          "mark": {"type": "square", "size": 36, "opacity": 1},
          "encoding": {
            "x": {"field": "day", "type": "quantitative"},
            "y": {"field": "deg", "type": "quantitative", "scale": {"domain": [0, 360], "range": [301.5, 34.2], "nice": false, "zero": false},
              "axis": {"orient": "right", "offset": -60.8, "values": [0,45,90,135,180,225,270,315,360], "title": "風向（°）", "titleFont": "Noto Sans CJK JP", "titleFontSize": 10, "titleAngle": 270, "grid": false, "tickSize": -4, "labelPadding": 13, "titlePadding": 11, "labelFlush": false}},
            "color": {"datum": "風向(200711)", "type": "nominal"}
          }
        },
        {
          "data": {"name": "compass"},
          "mark": {"type": "point", "opacity": 0},
          "encoding": {
            "y": {"field": "deg", "type": "quantitative", "scale": {"domain": [0, 360], "range": [305.8, 32.5], "nice": false, "zero": false},
              "axis": {"orient": "right", "offset": 0, "values": [0,45,90,135,180,225,270,315,360], "labelExpr": "['N','NE','E','SE','S','SW','W','NW','N'][round(datum.value / 45)]", "domain": false, "ticks": false, "grid": false, "title": null, "labelPadding": 3, "labelFont": "Liberation Serif", "labelFontSize": 20, "labelColor": "#000000", "labelFlush": false}}
          }
        },
        {
          "data": {"name": "n2"},
          "mark": {"type": "text", "font": "Noto Sans CJK JP", "fontSize": 27, "color": "#000000", "baseline": "middle", "align": "center"},
          "encoding": {
            "x": {"field": "day", "type": "quantitative"},
            "y": {"field": "hg", "type": "quantitative", "scale": {"domain": [0, 4], "range": [301.5, 34.2], "nice": false, "zero": false}, "axis": null},
            "text": {"field": "label"}
          }
        }
      ]
    },
    {
      "width": 1290, "height": 340,
      "resolve": {"scale": {"y": "independent"}, "axis": {"y": "independent"}},
      "layer": [
        {
          "data": {"name": "h3"},
          "mark": {"type": "line", "strokeWidth": 1.8},
          "encoding": {
            "x": {"field": "day", "type": "quantitative", "scale": {"domain": [1, 32], "range": [69.4, 1229.2], "nice": false, "zero": false},
              "axis": {"orient": "bottom", "offset": -38, "values": [1,2,3,4,5,6,7,8,9,10,11,12,13,14,15,16,17,18,19,20,21,22,23,24,25,26,27,28,29,30,31,32], "labelExpr": "datum.value < 32 ? '12/' + datum.value : '1/1'", "title": null, "tickSize": -4, "labelPadding": 16, "labelOverlap": false, "labelFlush": false, "grid": false}},
            "y": {"field": "hg", "type": "quantitative", "scale": {"domain": [0, 4], "range": [302, 32], "nice": false, "zero": false},
              "axis": {"orient": "left", "offset": -69.4, "values": [0,1,2,3,4], "title": "Hg(0) (ng/m3)", "grid": true, "ticks": false, "labelPadding": 16, "titlePadding": 8, "labelFlush": false}},
            "color": {"datum": "Hg0(0712)", "type": "nominal", "scale": {"domain": ["Hg0(0712)", "風向(0712)"], "range": ["#000080", "#000000"]},
              "legend": {"orient": "none", "legendX": 987, "legendY": 4, "direction": "horizontal", "title": null, "padding": 3, "strokeColor": "#444444", "fillColor": "#ffffff", "symbolSize": 100, "symbolOffset": 22, "labelOffset": 12, "columnPadding": 24, "labelFont": "Liberation Serif, Noto Sans CJK JP", "labelFontSize": 12, "labelColor": "#111111",
                "encode": {"symbols": {"update": {"shape": {"signal": "datum.value === 'Hg0(0712)' ? 'stroke' : 'square'"}, "size": {"signal": "datum.value === 'Hg0(0712)' ? 900 : 34"}, "stroke": {"signal": "datum.value === 'Hg0(0712)' ? '#000080' : 'transparent'"}, "fill": {"signal": "datum.value === 'Hg0(0712)' ? 'transparent' : '#000000'"}, "strokeWidth": {"value": 2}, "opacity": {"value": 1}}}}}}
          }
        },
        {
          "data": {"name": "w3"},
          "mark": {"type": "square", "size": 36, "opacity": 1},
          "encoding": {
            "x": {"field": "day", "type": "quantitative"},
            "y": {"field": "deg", "type": "quantitative", "scale": {"domain": [0, 360], "range": [302, 32], "nice": false, "zero": false},
              "axis": {"orient": "right", "offset": -60.8, "values": [0,45,90,135,180,225,270,315,360], "title": "風向（°）", "titleFont": "Noto Sans CJK JP", "titleFontSize": 10, "titleAngle": 270, "grid": false, "tickSize": -4, "labelPadding": 13, "titlePadding": 11, "labelFlush": false}},
            "color": {"datum": "風向(0712)", "type": "nominal"}
          }
        },
        {
          "data": {"name": "compass"},
          "mark": {"type": "point", "opacity": 0},
          "encoding": {
            "y": {"field": "deg", "type": "quantitative", "scale": {"domain": [0, 360], "range": [303, 30.3], "nice": false, "zero": false},
              "axis": {"orient": "right", "offset": 0, "values": [0,45,90,135,180,225,270,315,360], "labelExpr": "['N','NE','E','SE','S','SW','W','NW','N'][round(datum.value / 45)]", "domain": false, "ticks": false, "grid": false, "title": null, "labelPadding": 3, "labelFont": "Liberation Serif", "labelFontSize": 20, "labelColor": "#000000", "labelFlush": false}}
          }
        },
        {
          "data": {"name": "n3"},
          "mark": {"type": "text", "font": "Noto Sans CJK JP", "fontSize": 27, "color": "#000000", "baseline": "middle", "align": "center"},
          "encoding": {
            "x": {"field": "day", "type": "quantitative"},
            "y": {"field": "hg", "type": "quantitative", "scale": {"domain": [0, 4], "range": [302, 32], "nice": false, "zero": false}, "axis": null},
            "text": {"field": "label"}
          }
        }
      ]
    },
    {
      "width": 1290, "height": 339,
      "resolve": {"scale": {"y": "independent"}, "axis": {"y": "independent"}},
      "layer": [
        {
          "data": {"name": "h4"},
          "mark": {"type": "line", "strokeWidth": 1.8},
          "encoding": {
            "x": {"field": "day", "type": "quantitative", "scale": {"domain": [1, 32], "range": [70.3, 1222.5], "nice": false, "zero": false},
              "axis": {"orient": "bottom", "offset": -38.5, "values": [1,2,3,4,5,6,7,8,9,10,11,12,13,14,15,16,17,18,19,20,21,22,23,24,25,26,27,28,29,30,31,32], "labelExpr": "datum.value < 32 ? '1/' + datum.value : '2/1'", "title": null, "tickSize": -4, "labelPadding": 16, "labelOverlap": false, "labelFlush": false, "grid": false}},
            "y": {"field": "hg", "type": "quantitative", "scale": {"domain": [0, 4], "range": [300.5, 35.2], "nice": false, "zero": false},
              "axis": {"orient": "left", "offset": -70.3, "values": [0,1,2,3,4], "title": "Hg(0) (ng/m3)", "grid": true, "ticks": false, "labelPadding": 16, "titlePadding": 8, "labelFlush": false}},
            "color": {"datum": "Hg0(0801)", "type": "nominal", "scale": {"domain": ["Hg0(0801)", "風向(0811)"], "range": ["#000080", "#000000"]},
              "legend": {"orient": "none", "legendX": 953, "legendY": 4.5, "direction": "horizontal", "title": null, "padding": 3, "strokeColor": "#444444", "fillColor": "#ffffff", "symbolSize": 100, "symbolOffset": 22, "labelOffset": 12, "columnPadding": 24, "labelFont": "Liberation Serif, Noto Sans CJK JP", "labelFontSize": 12, "labelColor": "#111111",
                "encode": {"symbols": {"update": {"shape": {"signal": "datum.value === 'Hg0(0801)' ? 'stroke' : 'square'"}, "size": {"signal": "datum.value === 'Hg0(0801)' ? 900 : 34"}, "stroke": {"signal": "datum.value === 'Hg0(0801)' ? '#000080' : 'transparent'"}, "fill": {"signal": "datum.value === 'Hg0(0801)' ? 'transparent' : '#000000'"}, "strokeWidth": {"value": 2}, "opacity": {"value": 1}}}}}}
          }
        },
        {
          "data": {"name": "w4"},
          "mark": {"type": "square", "size": 36, "opacity": 1},
          "encoding": {
            "x": {"field": "day", "type": "quantitative"},
            "y": {"field": "deg", "type": "quantitative", "scale": {"domain": [0, 360], "range": [300.5, 35.2], "nice": false, "zero": false},
              "axis": {"orient": "right", "offset": -67.5, "values": [0,45,90,135,180,225,270,315,360], "title": "風向（°）", "titleFont": "Noto Sans CJK JP", "titleFontSize": 10, "titleAngle": 270, "grid": false, "tickSize": -4, "labelPadding": 13, "titlePadding": 11, "labelFlush": false}},
            "color": {"datum": "風向(0811)", "type": "nominal"}
          }
        },
        {
          "data": {"name": "compass"},
          "mark": {"type": "point", "opacity": 0},
          "encoding": {
            "y": {"field": "deg", "type": "quantitative", "scale": {"domain": [0, 360], "range": [309.5, 36.2], "nice": false, "zero": false},
              "axis": {"orient": "right", "offset": 0, "values": [0,45,90,135,180,225,270,315,360], "labelExpr": "['N','NE','E','SE','S','SW','W','NW','N'][round(datum.value / 45)]", "domain": false, "ticks": false, "grid": false, "title": null, "labelPadding": 3, "labelFont": "Liberation Serif", "labelFontSize": 20, "labelColor": "#000000", "labelFlush": false}}
          }
        },
        {
          "data": {"name": "n4"},
          "mark": {"type": "text", "font": "Noto Sans CJK JP", "fontSize": 27, "color": "#000000", "baseline": "middle", "align": "center"},
          "encoding": {
            "x": {"field": "day", "type": "quantitative"},
            "y": {"field": "hg", "type": "quantitative", "scale": {"domain": [0, 4], "range": [300.5, 35.2], "nice": false, "zero": false}, "axis": null},
            "text": {"field": "label"}
          }
        }
      ]
    },
    {
      "width": 1290, "height": 327,
      "resolve": {"scale": {"y": "independent"}, "axis": {"y": "independent"}},
      "layer": [
        {
          "data": {"name": "h5"},
          "mark": {"type": "line", "strokeWidth": 1.8},
          "encoding": {
            "x": {"field": "day", "type": "quantitative", "scale": {"domain": [1, 30], "range": [73.9, 1215.5], "nice": false, "zero": false},
              "axis": {"orient": "bottom", "offset": -28.3, "values": [1,2,3,4,5,6,7,8,9,10,11,12,13,14,15,16,17,18,19,20,21,22,23,24,25,26,27,28,29,30], "labelExpr": "datum.value < 30 ? '2/' + datum.value : '3/1'", "title": null, "tickSize": -4, "labelPadding": 16, "labelOverlap": false, "labelFlush": false, "grid": false}},
            "y": {"field": "hg", "type": "quantitative", "scale": {"domain": [0, 4], "range": [298.7, 45], "nice": false, "zero": false},
              "axis": {"orient": "left", "offset": -73.9, "values": [0,1,2,3,4], "title": "Hg(0) (ng/m3)", "grid": true, "ticks": false, "labelPadding": 16, "titlePadding": 8, "labelFlush": false}},
            "color": {"datum": "Hg0(0802)", "type": "nominal", "scale": {"domain": ["Hg0(0802)", "風向(0802)"], "range": ["#000080", "#000000"]},
              "legend": {"orient": "none", "legendX": 954, "legendY": 0, "direction": "horizontal", "title": null, "padding": 3, "strokeColor": "#444444", "fillColor": "#ffffff", "symbolSize": 100, "symbolOffset": 22, "labelOffset": 12, "columnPadding": 24, "labelFont": "Liberation Serif, Noto Sans CJK JP", "labelFontSize": 12, "labelColor": "#111111",
                "encode": {"symbols": {"update": {"shape": {"signal": "datum.value === 'Hg0(0802)' ? 'stroke' : 'square'"}, "size": {"signal": "datum.value === 'Hg0(0802)' ? 900 : 34"}, "stroke": {"signal": "datum.value === 'Hg0(0802)' ? '#000080' : 'transparent'"}, "fill": {"signal": "datum.value === 'Hg0(0802)' ? 'transparent' : '#000000'"}, "strokeWidth": {"value": 2}, "opacity": {"value": 1}}}}}}
          }
        },
        {
          "data": {"name": "w5"},
          "mark": {"type": "square", "size": 36, "opacity": 1},
          "encoding": {
            "x": {"field": "day", "type": "quantitative"},
            "y": {"field": "deg", "type": "quantitative", "scale": {"domain": [0, 360], "range": [298.7, 45], "nice": false, "zero": false},
              "axis": {"orient": "right", "offset": -74.5, "values": [0,45,90,135,180,225,270,315,360], "title": "風向（°）", "titleFont": "Noto Sans CJK JP", "titleFontSize": 10, "titleAngle": 270, "grid": false, "tickSize": -4, "labelPadding": 13, "titlePadding": 11, "labelFlush": false}},
            "color": {"datum": "風向(0802)", "type": "nominal"}
          }
        },
        {
          "data": {"name": "compass"},
          "mark": {"type": "point", "opacity": 0},
          "encoding": {
            "y": {"field": "deg", "type": "quantitative", "scale": {"domain": [0, 360], "range": [316.7, 42.7], "nice": false, "zero": false},
              "axis": {"orient": "right", "offset": 0, "values": [0,45,90,135,180,225,270,315,360], "labelExpr": "['N','NE','E','SE','S','SW','W','NW','N'][round(datum.value / 45)]", "domain": false, "ticks": false, "grid": false, "title": null, "labelPadding": 3, "labelFont": "Liberation Serif", "labelFontSize": 20, "labelColor": "#000000", "labelFlush": false}}
          }
        },
        {
          "data": {"name": "n5"},
          "mark": {"type": "text", "font": "Noto Sans CJK JP", "fontSize": 27, "color": "#000000", "baseline": "middle", "align": "center"},
          "encoding": {
            "x": {"field": "day", "type": "quantitative"},
            "y": {"field": "hg", "type": "quantitative", "scale": {"domain": [0, 4], "range": [298.7, 45], "nice": false, "zero": false}, "axis": null},
            "text": {"field": "label"}
          }
        }
      ]
    }
  ]
}
